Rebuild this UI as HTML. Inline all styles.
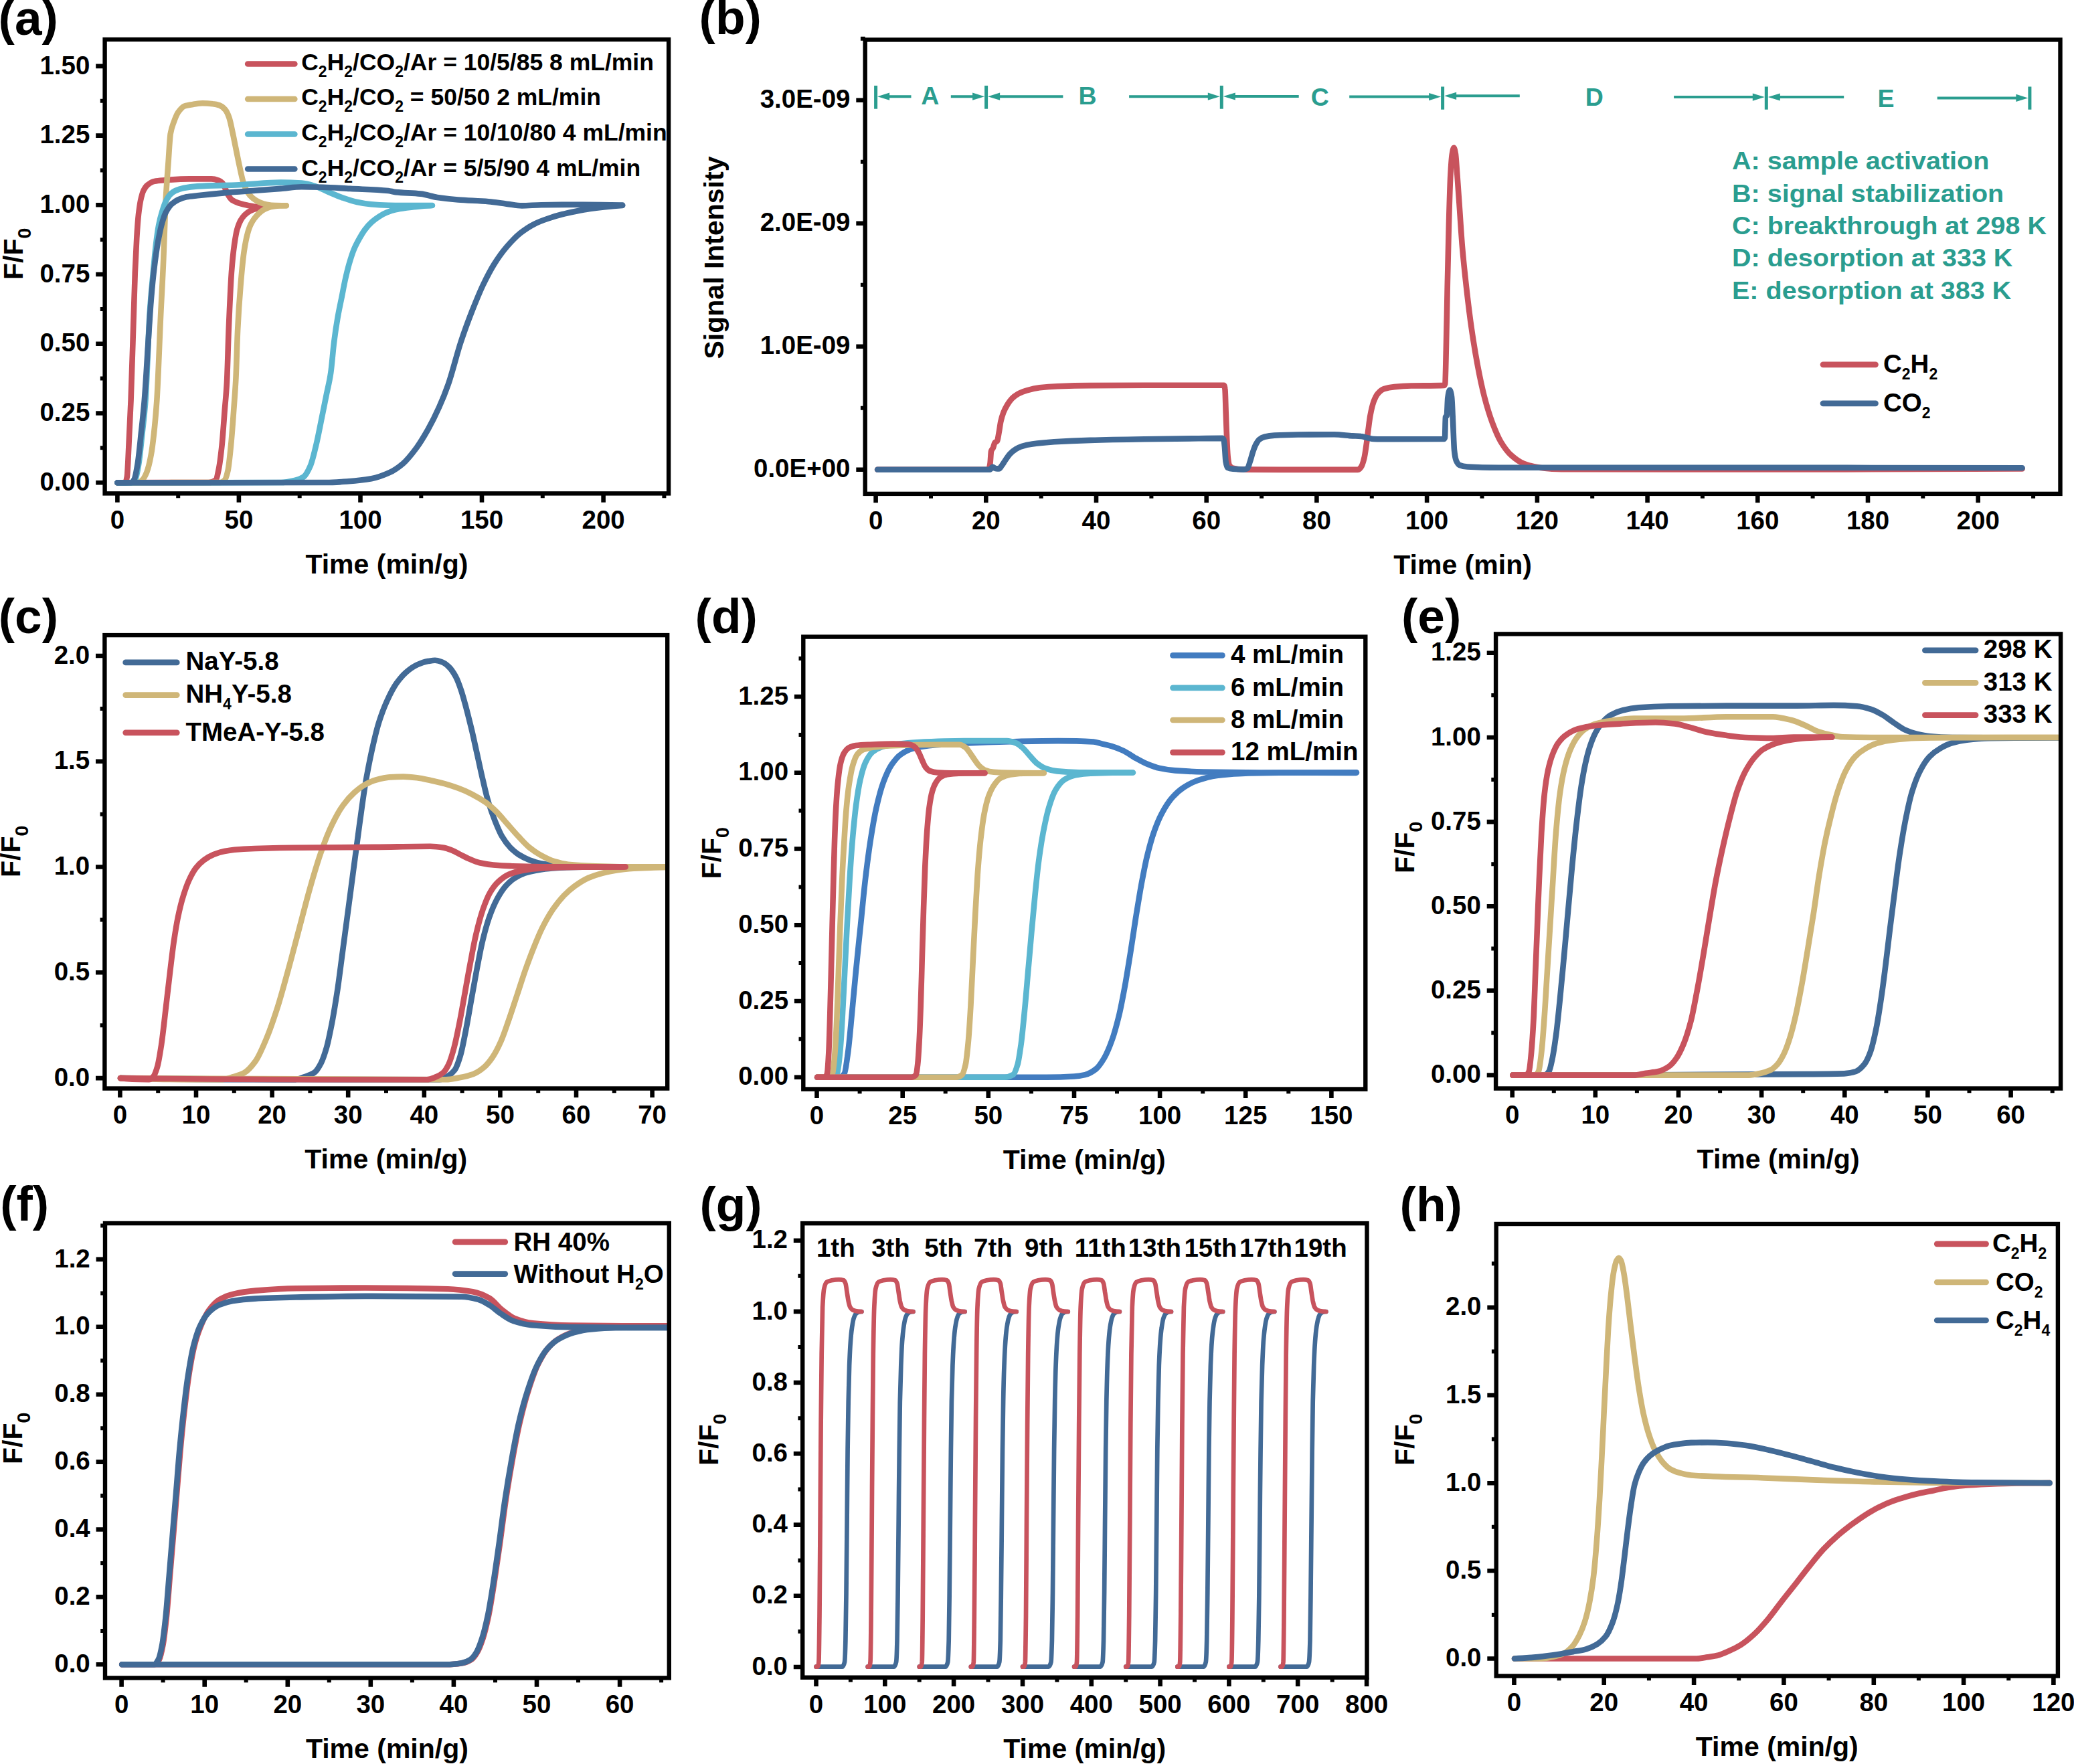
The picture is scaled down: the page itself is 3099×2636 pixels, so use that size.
<!DOCTYPE html>
<html><head><meta charset="utf-8"><title>Figure</title><style>html,body{margin:0;padding:0;background:#fff}svg{display:block}</style></head><body><svg xmlns="http://www.w3.org/2000/svg" width="3099" height="2636" viewBox="0 0 3099 2636" font-family='"Liberation Sans", sans-serif' font-weight="bold"><defs><clipPath id="clipa"><rect x="156.6" y="59" width="842.5" height="678.4"/></clipPath><clipPath id="clipb"><rect x="1292.7" y="59.4" width="1785.8" height="678.5"/></clipPath><clipPath id="clipc"><rect x="156.4" y="949.1" width="840.8" height="677.4"/></clipPath><clipPath id="clipd"><rect x="1200.3" y="951.6" width="840" height="675.9"/></clipPath><clipPath id="clipe"><rect x="2235.1" y="947.4" width="844" height="679.1"/></clipPath><clipPath id="clipf"><rect x="157" y="1828" width="842.8" height="679.4"/></clipPath><clipPath id="clipg"><rect x="1199.2" y="1828.1" width="843.3" height="678.6"/></clipPath><clipPath id="cliph"><rect x="2235.7" y="1829" width="839.2" height="675.5"/></clipPath></defs><rect width="3099" height="2636" fill="#fff"/><path d="M175.4 721.2C179.3 721.2 183.2 721.2 187.1 721C188 721 188.9 717.6 189.8 712.6C190.3 710.1 190.7 700.2 191.2 692.3C191.8 680.5 192.5 663 193.2 648.5C194 631.5 194.8 617.4 195.6 597.8C197 563.1 198.4 511.9 199.8 469.5C200.5 448.6 201.1 424.4 201.8 407.3C202.7 386.8 203.5 368.9 204.3 355.5C205.2 341 206.1 328.3 207 320.3C208.1 311 209.1 304.4 210.1 299.5C211.5 293.1 212.9 287.9 214.3 285C216.3 280.7 218.4 277.9 220.5 276.3C224 273.6 227.4 271.6 230.9 270.9C235 270.1 239.2 269.8 243.3 269.5C256.4 268.4 269.6 267.4 282.7 267.4C293.8 267.4 304.8 267.4 315.9 267.4C319.3 267.4 322.8 268.3 326.2 269.5C328.3 270.1 330.4 271.5 332.5 273.6C333.8 275 335.2 279 336.6 281.9C338 284.8 339.4 288.9 340.8 291.2C342.8 294.7 344.9 297.7 347 299.1C350.4 301.5 353.9 302.6 357.3 303.7C361.5 305 365.6 306 369.8 306.8C373.9 307.6 378.1 308.5 382.2 308.9C386.4 309.2 390.5 309.5 394.7 309.5" fill="none" stroke="#C8535D" stroke-width="8.6" stroke-linecap="round" stroke-linejoin="round" clip-path="url(#clipa)"/>
<path d="M175.4 721.2C220.9 721.2 266.5 721.2 312 721C315.4 721 318.7 719.9 322.1 717.6C323.8 716.5 325.5 707.5 327.2 699.1C328.6 691.8 330.1 679.3 331.6 665.3C332.9 652.4 334.3 631.9 335.6 614.7C336.7 600.4 337.9 591.2 339 570.8C339.9 554 340.9 512.5 341.8 490.3C343.2 457.2 344.6 425.8 345.9 407.3C347.3 388.9 348.7 375.7 350.1 365.9C351.5 356.1 352.8 348 354.2 343.1C356 336.9 357.7 332.7 359.4 329.6C361.5 325.9 363.6 323.3 365.6 321.3C368.4 318.6 371.2 316.4 373.9 315.1C377.4 313.4 380.8 312.2 384.3 311.3C387.7 310.5 391.2 309.8 394.7 309.5" fill="none" stroke="#C8535D" stroke-width="8.6" stroke-linecap="round" stroke-linejoin="round" clip-path="url(#clipa)"/>
<path d="M175.4 721.2C185.8 721.2 196.3 721.2 206.7 721C208.6 721 210.5 719.3 212.4 717.6C214.7 715.7 216.9 711.3 219.2 705.8C221.4 700.4 223.7 691 225.9 678.8C227.6 669.7 229.3 654.8 231 638.3C232.1 627.4 233.2 614.9 234.4 597.8C236.3 568.5 238.3 510.1 240.2 469.5C241.6 440.6 243 418.4 244.3 386.6C245.4 362.7 246.4 323.8 247.4 303.7C248.8 276.8 250.2 260.9 251.6 241.5C252.6 226.9 253.7 206.1 254.7 200C256.3 190.8 257.8 187.6 259.4 183.2C261.7 176.9 263.9 170.9 266.2 167.8C269.4 163.3 272.6 159.6 275.8 158.5C280.3 157 284.8 156.5 289.3 155.8C293.8 155.2 298.3 154.3 302.8 154.3C307.9 154.3 313.1 154.7 318.2 155.3C321.4 155.6 324.7 156.3 327.9 157.4C330.8 158.4 333.7 160.7 336.5 163.9C338.5 166.1 340.4 170.2 342.3 175.5C344.2 180.7 346.1 191.2 348 200C349.4 206.4 350.8 214 352.2 220.7C353.9 229.2 355.6 237.7 357.3 245.6C359.4 255.1 361.5 266.3 363.6 272.6C365.6 278.9 367.7 283.9 369.8 287.1C372.5 291.4 375.3 294.2 378.1 296.4C381.5 299.1 385 301.3 388.4 302.6C391.9 304 395.4 305.2 398.8 305.7C403 306.4 407.1 306.9 411.2 307C416.8 307.1 422.3 307.2 427.8 307.2" fill="none" stroke="#CFB678" stroke-width="8.6" stroke-linecap="round" stroke-linejoin="round" clip-path="url(#clipa)"/>
<path d="M175.4 721.2C226.6 721.2 277.7 721.2 328.9 721C331.1 721 333.4 719.6 335.6 717.6C337.3 716.2 339 710 340.7 702.5C342.1 695.9 343.6 680.1 345.1 665.3C346.4 651.7 347.8 633.2 349.1 614.7C350.2 599.3 351.4 585.9 352.5 564.1C353.4 546.2 354.3 508.3 355.3 490.3C356.6 463.2 358 444.8 359.4 428.1C361.1 407.2 362.9 388.1 364.6 376.2C366.3 364.4 368.1 355.6 369.8 349.3C371.5 343 373.2 338.3 375 334.8C376.7 331.3 378.4 328.8 380.1 326.5C382.2 323.7 384.3 321.1 386.4 319.2C389.1 316.7 391.9 314.5 394.7 313C398.1 311.2 401.6 309.5 405 308.9C409.2 308.1 413.3 307.5 417.5 307.4C420.9 307.3 424.4 307.2 427.8 307.2" fill="none" stroke="#CFB678" stroke-width="8.6" stroke-linecap="round" stroke-linejoin="round" clip-path="url(#clipa)"/>
<path d="M175.4 721.2C183 721.2 190.6 721.2 198.3 721C199.6 721 201 718.8 202.3 716.3C204 713.2 205.7 702.9 207.4 692.7C209.1 682.4 210.7 664.5 212.4 648.8C214.1 633.1 215.8 620.8 217.5 598.2C219.5 570.9 221.6 500.4 223.6 469.5C225.3 443.3 227.1 426.1 228.8 407.3C230.2 392.3 231.6 377.3 232.9 365.9C234.3 354.5 235.7 344 237.1 336.8C238.8 328 240.5 321.8 242.3 316.1C244 310.4 245.7 305.2 247.4 301.6C249.5 297.2 251.6 293.4 253.7 291.2C256.4 288.3 259.2 286.3 262 285C266.1 283 270.3 281.6 274.4 280.9C281.3 279.6 288.2 278.8 295.1 278.4C315.9 277.2 336.6 277.2 357.3 276.3C378.1 275.4 398.8 272.6 419.5 272.6C429.9 272.6 440.3 273 450.6 273.6C457.6 274 464.5 276.3 471.4 278.4C478.3 280.5 485.2 284.6 492.1 287.5C499 290.4 505.9 293.4 512.8 295.8C519.8 298.2 526.7 300.6 533.6 302C540.5 303.5 547.4 304.7 554.3 305.3C562.9 306.1 571.5 306.6 580 306.8C587.2 306.9 594.3 307 601.5 307C616.3 307 631.2 307 646 307" fill="none" stroke="#5BB6D0" stroke-width="8.6" stroke-linecap="round" stroke-linejoin="round" clip-path="url(#clipa)"/>
<path d="M175.4 721.2C256.9 721.2 338.5 721.2 420 721C426.7 721 433.5 719.5 440.2 718C444.7 717 449.2 715.6 453.7 712.6C457.1 710.3 460.5 703.5 463.9 695.7C466.7 689.2 469.5 676.9 472.3 665.3C475.1 653.8 477.9 638.6 480.7 624.8C483 613.8 485.2 602.3 487.5 591.1C489.7 579.8 492 572.3 494.2 557.3C495.9 546.4 497.5 523.6 499.2 510.7C501 496 502.9 484 504.8 473.3C506.7 462.6 508.5 454.6 510.4 445.2C512.3 435.8 514.1 425.4 516 417.1C517.9 408.8 519.8 401.1 521.6 394.7C524.1 386.1 526.6 378.2 529.1 372.2C531.6 366.2 534.1 361.7 536.6 357.2C539.7 351.7 542.8 346.3 546 342.3C549.1 338.2 552.2 334.8 555.3 332C559.1 328.6 562.8 325.9 566.5 323.6C570.3 321.2 574 319.1 577.8 317.6C582.1 315.8 586.5 314.2 590.9 313.3C595.9 312.2 600.8 311.5 605.8 310.8C612.1 310 618.3 309.1 624.6 308.6C630.8 308 637 307.6 643.3 307.3" fill="none" stroke="#5BB6D0" stroke-width="8.6" stroke-linecap="round" stroke-linejoin="round" clip-path="url(#clipa)"/>
<path d="M175.4 721.2C182.5 721.2 189.5 721.2 196.6 721C197.9 721 199.3 718.8 200.6 716.3C202.3 713.2 204 702.9 205.7 692.7C207.4 682.4 209.1 664.5 210.7 648.8C212.4 633.1 214.1 618.5 215.8 598.2C217.7 575.2 219.6 539.8 221.5 511C222.9 490.1 224.3 465.5 225.7 448.8C227.4 427.9 229.1 411 230.9 397C232.6 383 234.3 371.4 236 361.7C237.8 352 239.5 343.3 241.2 336.8C243.3 329.1 245.4 322.4 247.4 318.2C250.2 312.6 253 308.4 255.7 305.7C259.2 302.4 262.7 300.1 266.1 298.5C270.3 296.6 274.4 295.1 278.6 294.3C284.1 293.3 289.6 292.9 295.1 292.3C309 290.7 322.8 289.3 336.6 288.1C350.4 286.9 364.3 286 378.1 285C391.9 284 405.7 283 419.5 281.9C429.9 281.1 440.3 279.2 450.6 279.2C461 279.2 471.4 279.5 481.7 279.8C495.6 280.2 509.4 281.2 523.2 281.9C542.1 282.9 561.1 283.2 580 285C583.7 285.4 587.4 286.7 591.1 287.1C603.5 288.4 616 288.3 628.4 289.6C636.7 290.4 645 293.7 653.3 295C663.7 296.5 674 297.7 684.4 298.5C699.6 299.7 714.8 299.9 730 301.2C739 301.9 748 303.6 757 304.7C764.6 305.6 772.2 307.4 779.8 307.4C789.5 307.4 799.1 306.3 808.8 306.2C829.5 305.9 850.3 305.7 871 305.7C890.7 305.7 910.4 306.1 930.1 306.6" fill="none" stroke="#426A96" stroke-width="8.6" stroke-linecap="round" stroke-linejoin="round" clip-path="url(#clipa)"/>
<path d="M175.4 721.2C279.4 721.2 383.5 721.2 487.5 721C498.7 721 510 720.1 521.2 719.3C532.5 718.5 543.7 717.3 555 715.3C564 713.7 573 710.3 582 706.2C588.7 703.1 595.5 698.4 602.2 692.7C609 686.9 615.7 678.2 622.5 669C628.1 661.4 633.7 652 639.4 642C645 632 650.6 620.9 656.2 608.3C660.7 598.3 665.2 587.4 669.7 574.5C676 556.7 682.3 530 688.6 511C694.1 494.3 699.6 479.5 705.1 465.4C710.7 451.3 716.2 437.6 721.7 426C727.3 414.4 732.8 403.7 738.3 394.9C744.5 384.9 750.8 376.2 757 369C763.9 360.9 770.8 353.7 777.7 348.2C784.6 342.8 791.5 338.2 798.4 334.8C805.4 331.3 812.3 328.8 819.2 326.5C826.1 324.1 833 322 839.9 320.3C846.8 318.5 853.7 317.1 860.6 315.7C867.6 314.3 874.5 313 881.4 312C888.3 311 895.2 310.2 902.1 309.5C911.4 308.5 920.8 307.6 930.1 307" fill="none" stroke="#426A96" stroke-width="8.6" stroke-linecap="round" stroke-linejoin="round" clip-path="url(#clipa)"/>
<path d="M1311.1 701.8C1366.5 701.8 1421.9 701.8 1477.3 701.6C1478 701.6 1478.7 697.5 1479.4 693.3C1480 690 1480.5 676.2 1481 674.4C1482 671 1483 671.2 1484 669C1484.8 667.1 1485.6 662.7 1486.4 661.7C1487.6 660.2 1488.8 660.6 1490 659C1490.9 657.7 1491.8 650.8 1492.7 646C1493.6 641.2 1494.5 633.7 1495.4 629.8C1496.7 623.9 1498.1 619.7 1499.4 616.3C1501.2 611.8 1503 608.5 1504.8 605.5C1507.1 601.8 1509.3 598.3 1511.6 596.1C1514.7 592.9 1517.9 590.5 1521 588.8C1525.5 586.3 1530 584.6 1534.5 583.4C1540.8 581.6 1547.1 580.1 1553.4 579.3C1562.4 578.2 1571.4 577.5 1580.4 577.2C1596.6 576.6 1612.8 576.2 1629 576.1C1656 575.9 1683 575.8 1710 575.8C1749.6 575.8 1789.2 575.8 1828.8 575.8C1829.4 575.8 1829.9 577.9 1830.4 581.2C1830.9 584 1831.3 606.9 1831.8 619C1832.2 631.1 1832.7 644.4 1833.1 654.1C1833.7 665.8 1834.2 679.3 1834.8 683.8C1835.5 689.8 1836.2 694 1836.9 695.1C1838.7 698.1 1840.5 699.3 1842.3 699.7C1846.8 700.9 1851.3 701.6 1855.8 701.6C1879.2 701.9 1902.6 701.9 1926 701.9C1960.3 701.9 1994.6 701.9 2029 701.9C2030.5 701.9 2032.1 700.1 2033.6 698.1C2035.2 696.2 2036.8 691.1 2038.3 685C2039.4 681 2040.4 673.4 2041.4 666.3C2042.5 659.2 2043.5 649.1 2044.6 641.4C2045.6 633.6 2046.6 624.9 2047.7 619.6C2049.2 611.5 2050.8 605.1 2052.3 600.8C2054.4 595.2 2056.5 590.8 2058.6 588.4C2061.7 584.8 2064.8 582.2 2067.9 581.2C2073.1 579.5 2078.3 578.6 2083.5 578.1C2091.8 577.3 2100.1 576.7 2108.5 576.5C2124.9 576.2 2141.3 576.5 2157.7 575.9C2158.2 575.9 2158.8 575 2159.3 573.4C2159.8 571.8 2160.3 543.2 2160.8 522.9C2161.5 498.6 2162.1 458.2 2162.7 429.4C2163.4 395.8 2164.2 361.6 2164.9 335.9C2165.7 306.4 2166.5 275.7 2167.4 261.1C2168.2 246.4 2169 234.6 2169.9 229.9C2170.7 225.2 2171.5 220.8 2172.4 220.8C2173.2 220.8 2174 225.2 2174.9 229.9C2175.7 234.6 2176.5 250.1 2177.4 261.1C2178.4 274.7 2179.4 290 2180.5 304.7C2181.9 325.3 2183.4 349.7 2184.8 367C2186.9 391.8 2189 410.8 2191.1 429.4C2193.7 452.6 2196.3 473.8 2198.9 491.7C2202 513.2 2205.1 531.5 2208.2 547.9C2211.3 564.2 2214.5 579.4 2217.6 591.5C2221.7 607.6 2225.9 621 2230 632C2234.2 643.1 2238.4 653.2 2242.5 660.1C2247.7 668.7 2252.9 675.7 2258.1 680.3C2264.3 685.9 2270.6 690.5 2276.8 692.8C2285.1 695.9 2293.4 698.1 2301.7 699C2312.1 700.2 2322.5 701.2 2332.9 701.2C2388.6 701.5 2444.3 701.5 2500 701.5C2673.9 701.5 2847.7 701.4 3021.6 700.5" fill="none" stroke="#C8535D" stroke-width="8.6" stroke-linecap="round" stroke-linejoin="round" clip-path="url(#clipb)"/>
<path d="M1311.1 701.8C1367.1 701.8 1423.1 701.8 1479.2 701.6C1480.5 701.6 1481.9 697.8 1483.2 697.8C1484.6 697.8 1485.9 699.8 1487.3 700C1489.1 700.3 1490.9 700.5 1492.7 700.5C1494 700.5 1495.4 697.7 1496.7 696C1498.5 693.6 1500.3 690.5 1502.1 687.9C1504.4 684.6 1506.6 680.8 1508.9 678.4C1511.6 675.6 1514.3 673.3 1517 671.7C1520.1 669.7 1523.3 668 1526.4 667.1C1531.8 665.4 1537.2 664.3 1542.6 663.6C1553.4 662 1564.2 661 1575 660.3C1593 659.2 1611 658.4 1629 657.9C1656 657.1 1683 656.7 1710 656.3C1737 655.8 1764 655.4 1791 655.2C1802.9 655.1 1814.8 654.9 1826.7 654.9C1827.2 654.9 1827.7 655.5 1828.3 656.3C1828.8 657.1 1829.4 662.6 1829.9 667.6C1830.4 672.6 1831 686.1 1831.5 689.2C1832.4 694.5 1833.3 698.1 1834.2 698.7C1836.9 700.2 1839.6 700.6 1842.3 700.8C1847.7 701.3 1853.1 701.6 1858.5 701.6C1860.3 701.6 1862.1 701 1863.9 700C1865.3 699.3 1866.6 693.2 1868 689.2C1869.3 685.2 1870.7 679.7 1872 675.7C1873.4 671.7 1874.7 667.5 1876.1 664.9C1877.9 661.4 1879.7 658.2 1881.5 656.8C1884.2 654.7 1886.9 653.4 1889.6 652.8C1894.5 651.6 1899.5 650.9 1904.4 650.6C1916.1 649.9 1927.8 649.6 1939.5 649.5C1957.5 649.4 1975.5 649.2 1993.5 649.2C2002.7 649.2 2012 650.8 2021.2 651.4C2025.3 651.6 2029.5 651.6 2033.6 652C2036.8 652.2 2039.9 653.5 2043 654.2C2046.1 654.8 2049.2 656 2052.3 656C2062.7 656.3 2073.1 656.3 2083.5 656.3C2108.3 656.3 2133 656.3 2157.7 656C2158.1 656 2158.5 655.3 2159 653.8C2159.3 652.8 2159.6 624.1 2159.9 623.3C2160.5 621.7 2161.1 622.5 2161.8 621.1C2162.3 619.9 2162.8 598.3 2163.3 594.6C2164.3 587.9 2165.2 582.8 2166.1 582.8C2167.1 582.8 2168 586.4 2168.9 591.5C2169.7 595.5 2170.4 617.4 2171.1 632C2171.7 644.5 2172.4 666.8 2173 672.5C2173.9 681.2 2174.9 686 2175.8 688.1C2177.5 692 2179.1 694.3 2180.8 695C2184.7 696.6 2188.7 697.3 2192.6 697.5C2208.2 698.4 2223.8 698.7 2239.4 698.7C2326.3 698.7 2413.1 698.7 2500 698.7C2673.9 698.7 2847.7 699 3021.6 699.3" fill="none" stroke="#426A96" stroke-width="8.6" stroke-linecap="round" stroke-linejoin="round" clip-path="url(#clipb)"/>
<path d="M180 1611.1C266.3 1613.3 352.6 1613.3 438.9 1613.3C444.3 1613.3 449.8 1610.8 455.3 1609.1C460.1 1607.5 464.8 1606.2 469.6 1602.9C473 1600.6 476.5 1594.8 479.9 1588.2C482.6 1582.9 485.3 1574.6 488.1 1565C490.8 1555.5 493.5 1541.5 496.3 1527.2C499 1512.9 501.7 1496 504.5 1477.8C507.2 1459.5 509.9 1436.8 512.7 1416.3C515.4 1395.8 518.1 1375.3 520.9 1354.8C523.6 1334.3 526.3 1313.9 529 1293.4C531.8 1272.9 534.5 1251.7 537.2 1231.9C540 1212.1 542.7 1190.9 545.4 1174.5C548.9 1154 552.3 1136.7 555.7 1121.2C559.1 1105.8 562.5 1091.2 565.9 1080.2C570 1067.1 574.1 1056.5 578.2 1047.5C583 1036.9 587.8 1027.6 592.6 1020.8C597.4 1014.1 602.1 1008.5 606.9 1004.4C612.4 999.8 617.8 995.8 623.3 993.4C628.8 991 634.2 989 639.7 988C643.1 987.5 646.5 986.8 650 986.8C653.4 986.8 656.8 988.1 660.2 989.3C663.6 990.5 667 993.1 670.4 996.2C673.9 999.4 677.3 1004.4 680.7 1010.6C683.4 1015.5 686.2 1023.1 688.9 1031.1C691.6 1039 694.3 1049.6 697.1 1059.8C699.8 1070 702.5 1081 705.3 1092.5C708 1104.1 710.7 1117.1 713.5 1129.4C716.2 1141.7 718.9 1154.7 721.7 1166.3C724.4 1177.9 727.1 1190 729.9 1199.1C733.3 1210.4 736.7 1219.4 740.1 1227.8C743.5 1236.2 746.9 1244.6 750.4 1250.3C754.5 1257.2 758.6 1262.5 762.7 1266.7C766.8 1270.9 770.9 1274.4 775 1277C780.4 1280.4 785.9 1283.1 791.3 1285.2C796.8 1287.2 802.3 1289 807.7 1290.1C815.9 1291.6 824.1 1292.8 832.3 1293.4C844.6 1294.2 856.9 1294.8 869.2 1295C888.3 1295.2 907.5 1295.4 926.6 1295.4" fill="none" stroke="#426A96" stroke-width="8.6" stroke-linecap="round" stroke-linejoin="round" clip-path="url(#clipc)"/>
<path d="M180 1611.1C339 1613.3 498.1 1613.3 657.1 1613.3C661.2 1613.3 665.3 1610.3 669.4 1607.8C672.8 1605.8 676.2 1603.3 679.6 1598.7C682.4 1595 685.1 1586.7 687.8 1577.7C690.6 1568.7 693.3 1553.6 696 1539.8C698.8 1526 701.5 1509.3 704.2 1494.2C707 1479.1 709.7 1463.4 712.4 1449.1C715.2 1434.8 717.9 1419.6 720.6 1408.1C724 1393.7 727.5 1381 730.9 1371.2C735 1359.5 739.1 1350 743.2 1342.5C747.3 1335.1 751.4 1328.7 755.5 1324.1C759.6 1319.5 763.7 1315.7 767.8 1313C773.2 1309.5 778.7 1306.7 784.1 1304.8C789.6 1303 795.1 1301.7 800.5 1300.7C808.7 1299.3 816.9 1298 825.1 1297.5C840.2 1296.5 855.2 1296 870.2 1295.8C889.3 1295.6 908.5 1295.4 927.6 1295.4" fill="none" stroke="#426A96" stroke-width="8.6" stroke-linecap="round" stroke-linejoin="round" clip-path="url(#clipc)"/>
<path d="M180 1611.1C230.8 1613.3 281.6 1613.3 332.3 1613.3C337.8 1613.3 343.3 1610.7 348.7 1609.1C354.2 1607.4 359.7 1605.9 365.1 1602.9C370.6 1599.9 376 1593.6 381.5 1586.1C387 1578.6 392.4 1565.4 397.9 1552.4C403.4 1539.5 408.8 1523.5 414.3 1506.5C419.8 1489.5 425.2 1468.9 430.7 1449.1C436.2 1429.3 441.6 1408.1 447.1 1387.6C452.5 1367.1 458 1345.2 463.5 1326.1C468.9 1307.1 474.4 1288.3 479.9 1272.9C485.3 1257.4 490.8 1243.1 496.3 1231.9C501.7 1220.6 507.2 1210.7 512.7 1203.2C518.1 1195.7 523.6 1189.7 529 1184.8C534.5 1179.8 540 1175.4 545.4 1172.5C550.9 1169.5 556.4 1167 561.8 1165.5C568.7 1163.6 575.5 1161.8 582.3 1161.4C589.2 1160.9 596 1160.6 602.8 1160.6C609.7 1160.6 616.5 1161.4 623.3 1162.2C630.1 1163 637 1164.8 643.8 1166.3C650.6 1167.8 657.5 1169.4 664.3 1171.2C671.1 1173.1 678 1175.3 684.8 1177.8C691.6 1180.3 698.4 1183.3 705.3 1186.8C712.1 1190.3 718.9 1194.2 725.8 1199.1C731.2 1203 736.7 1208.1 742.2 1213.4C747.6 1218.8 753.1 1225.7 758.6 1231.9C764 1238 769.5 1244.5 775 1250.3C780.4 1256.1 785.9 1262.3 791.3 1266.7C796.8 1271.1 802.3 1274.8 807.7 1277.8C814.6 1281.6 821.4 1285.2 828.2 1287.2C835.1 1289.2 841.9 1291 848.7 1291.7C862.4 1293.1 876 1293.8 889.7 1294.2C910.2 1294.8 930.7 1295.4 951.2 1295.4C968.3 1295.4 985.3 1295.4 1002.4 1295.4" fill="none" stroke="#CFB678" stroke-width="8.6" stroke-linecap="round" stroke-linejoin="round" clip-path="url(#clipc)"/>
<path d="M180 1611.1C342.1 1613.3 504.2 1613.3 666.3 1613.3C673.1 1613.3 680 1611.6 686.8 1610.3C693.6 1609 700.4 1607.5 707.3 1605C712.7 1602.9 718.2 1599.1 723.7 1594.5C727.8 1591 731.9 1585.8 736 1579.8C740.1 1573.8 744.2 1565.8 748.3 1556.6C752.4 1547.5 756.5 1534.7 760.6 1523C764.7 1511.2 768.8 1498.3 772.9 1486C777 1473.7 781 1460.7 785.1 1449.1C789.2 1437.5 793.3 1426.5 797.4 1416.3C801.5 1406.1 805.6 1395.9 809.7 1387.6C815.2 1376.6 820.7 1366.9 826.1 1358.9C831.6 1351 837.1 1344.1 842.5 1338.4C848 1332.8 853.5 1328 858.9 1324.1C865.7 1319.2 872.6 1314.8 879.4 1311.8C886.2 1308.8 893.1 1306.6 899.9 1304.8C908.1 1302.8 916.3 1300.9 924.5 1299.9C934.1 1298.8 943.6 1297.9 953.2 1297.5C970.3 1296.6 987.3 1295.8 1004.4 1295.8" fill="none" stroke="#CFB678" stroke-width="8.6" stroke-linecap="round" stroke-linejoin="round" clip-path="url(#clipc)"/>
<path d="M180 1611.1C332.5 1613.3 485.1 1613.3 637.6 1613.3C642.4 1613.3 647.2 1611 652 1609.1C655.4 1607.7 658.8 1605.9 662.2 1602.9C664.9 1600.5 667.7 1595.9 670.4 1590.3C673.1 1584.7 675.9 1575.1 678.6 1565C681.3 1555 684.1 1540.9 686.8 1527.2C689.5 1513.4 692.3 1496.9 695 1481.9C697.7 1466.8 700.4 1451.1 703.2 1436.8C705.9 1422.5 708.6 1407.3 711.4 1395.8C714.8 1381.4 718.2 1368.8 721.6 1358.9C725 1349.1 728.5 1340.3 731.9 1334.3C736 1327.3 740.1 1321.8 744.2 1318C749.6 1312.9 755.1 1308.7 760.6 1306.5C767.4 1303.7 774.2 1301.9 781 1300.7C790.6 1299.1 800.2 1297.9 809.7 1297.5C830.2 1296.5 850.7 1296 871.2 1295.8C892.4 1295.6 913.6 1295.4 934.7 1295.4" fill="none" stroke="#C8535D" stroke-width="8.6" stroke-linecap="round" stroke-linejoin="round" clip-path="url(#clipc)"/>
<path d="M180 1611.1C194.2 1613.3 208.5 1613.3 222.7 1613.3C224.8 1613.3 226.8 1611.2 228.9 1609.1C230.9 1606.9 233 1601.3 235 1594.5C237.1 1587.7 239.1 1574.3 241.2 1560.8C243.2 1547.4 245.3 1527.8 247.3 1510.6C249.4 1493.3 251.4 1474.3 253.5 1457.3C255.5 1440.2 257.6 1422.2 259.6 1408.1C261.7 1394.1 263.7 1381.2 265.8 1371.2C268.5 1358 271.2 1347.3 274 1338.4C276.7 1329.5 279.4 1321.9 282.1 1315.9C285.6 1308.4 289 1301.9 292.4 1297.5C296.5 1292.1 300.6 1288.2 304.7 1285.2C309.5 1281.7 314.3 1278.9 319 1277C324.5 1274.8 330 1273 335.4 1272C345 1270.4 354.6 1269.2 364.1 1268.8C388.7 1267.6 413.3 1267 437.9 1266.7C478.9 1266.3 519.9 1266.3 560.8 1265.9C588.2 1265.6 615.5 1264.7 642.8 1264.7C649.6 1264.7 656.5 1265.6 663.3 1266.7C667.4 1267.4 671.5 1269.2 675.6 1270.8C679.7 1272.5 683.8 1274.9 687.9 1277C692 1279 696.1 1281.3 700.2 1283.1C705.6 1285.5 711.1 1288 716.6 1289.3C723.4 1290.8 730.2 1292 737.1 1292.5C746.6 1293.4 756.2 1293.9 765.8 1294.2C793.1 1294.9 820.4 1295.4 847.7 1295.4C875.7 1295.4 903.7 1295.4 931.7 1295.4" fill="none" stroke="#C8535D" stroke-width="8.6" stroke-linecap="round" stroke-linejoin="round" clip-path="url(#clipc)"/>
<path d="M1221.1 1609.7C1232.2 1609.7 1243.4 1609.7 1254.5 1609.7C1256.9 1609.7 1259.3 1607.7 1261.6 1604.4C1263.4 1602 1265.2 1586.3 1267 1573.3C1268.8 1560.3 1270.6 1539.6 1272.3 1521.4C1274.5 1499.6 1276.6 1474.1 1278.8 1452.3C1281.1 1428 1283.5 1406.1 1285.9 1383.1C1288.3 1360 1290.6 1334.2 1293 1313.9C1295.6 1291.9 1298.2 1271.8 1300.8 1255.1C1303.7 1236.5 1306.6 1219.6 1309.5 1206.7C1313 1191.3 1316.5 1178.1 1320 1168.7C1324.1 1157.7 1328.1 1148.8 1332.2 1142.8C1336.9 1135.9 1341.5 1130.4 1346.2 1127.2C1352 1123.2 1357.8 1120.2 1363.6 1118.6C1371.8 1116.3 1379.9 1114.9 1388.1 1114.1C1405.5 1112.3 1423 1111.4 1440.4 1110.6C1463.8 1109.5 1487.1 1108.7 1510.4 1108.2C1533.9 1107.7 1557.5 1107.1 1581.1 1107.1C1598.7 1107.1 1616.4 1107.5 1634.1 1108.5C1638.4 1108.8 1642.8 1110.6 1647.1 1111.6C1651.8 1112.8 1656.6 1113.7 1661.3 1115.1C1667.2 1116.9 1673.1 1119.2 1678.9 1122C1684.6 1124.7 1690.3 1129.2 1696 1132.4C1701.5 1135.5 1707.1 1138.7 1712.6 1141C1719.2 1143.8 1725.9 1146.6 1732.5 1147.9C1740.2 1149.6 1748 1150.8 1755.7 1151.4C1770.1 1152.5 1784.4 1153.2 1798.8 1153.5C1827.2 1154.1 1855.6 1154.4 1884 1154.5C1931.2 1154.7 1978.4 1154.9 2025.6 1154.9" fill="none" stroke="#427CC0" stroke-width="8.6" stroke-linecap="round" stroke-linejoin="round" clip-path="url(#clipd)"/>
<path d="M1221.1 1609.7C1335.4 1609.7 1449.6 1609.7 1563.9 1609.7C1577.5 1609.7 1591.2 1609.3 1604.8 1608.5C1610.3 1608.2 1615.8 1607.3 1621.2 1606.1C1626.7 1604.8 1632.2 1601.7 1637.6 1597.5C1641.7 1594.3 1645.8 1588 1649.9 1581.1C1654 1574.1 1658.1 1564.1 1662.2 1552.4C1665.6 1542.6 1669 1529.9 1672.5 1515.5C1675.2 1504 1677.9 1489.4 1680.7 1474.5C1683.4 1459.6 1686.1 1442.4 1688.9 1425.3C1691.6 1408.3 1694.3 1389.1 1697 1372C1699.8 1355 1702.5 1337.8 1705.2 1322.9C1708 1308 1710.7 1293.4 1713.4 1281.9C1716.9 1267.5 1720.3 1254.9 1723.7 1245C1727.8 1233.1 1731.9 1223.1 1736 1215.5C1741.4 1205.3 1746.9 1196.9 1752.4 1190.9C1757.8 1184.9 1763.3 1180.1 1768.8 1176.6C1775.6 1172.2 1782.4 1168.7 1789.3 1166.3C1798.8 1163 1808.4 1160.2 1818 1158.9C1828.9 1157.5 1839.8 1156.4 1850.7 1156.1C1871.2 1155.4 1891.7 1155 1912.2 1154.8C1950.5 1154.6 1988.7 1154.4 2027 1154.4" fill="none" stroke="#427CC0" stroke-width="8.6" stroke-linecap="round" stroke-linejoin="round" clip-path="url(#clipd)"/>
<path d="M1221.1 1609.7C1229.2 1609.7 1237.4 1609.7 1245.5 1609.7C1247.3 1609.7 1249.1 1607.6 1250.8 1604.4C1252.3 1601.9 1253.7 1587.3 1255.1 1573.3C1256.3 1561.6 1257.5 1541.2 1258.6 1521.4C1259.8 1501.7 1261 1475.3 1262.2 1452.3C1263.4 1429.2 1264.5 1405.1 1265.7 1383.1C1267 1358.9 1268.3 1334.2 1269.6 1313.9C1271 1291.9 1272.4 1271.5 1273.8 1255.1C1275.6 1234.8 1277.4 1216.5 1279.1 1203.3C1281.2 1187.4 1283.3 1174.4 1285.4 1165.2C1288 1154 1290.6 1144.7 1293.2 1139.3C1296.7 1132 1300.2 1126.6 1303.7 1123.7C1308.4 1119.9 1313.1 1117.5 1317.7 1116.1C1323.6 1114.4 1329.4 1113.5 1335.3 1112.7C1347 1111.1 1358.7 1109.8 1370.4 1109.2C1393.9 1108.1 1417.4 1107.1 1440.9 1107.1C1462.1 1107.1 1483.3 1107.1 1504.5 1107.1C1509.2 1107.1 1513.9 1108.8 1518.7 1110.6C1522.2 1111.9 1525.7 1115.4 1529.3 1118.6C1532.8 1121.8 1536.3 1126.8 1539.9 1130.7C1543.2 1134.3 1546.5 1138.5 1549.8 1141C1554.2 1144.3 1558.6 1147.2 1563 1148.6C1568.5 1150.5 1574 1151.9 1579.5 1152.4C1590.5 1153.5 1601.5 1154.1 1612.5 1154.2C1639 1154.4 1665.5 1154.5 1692 1154.5" fill="none" stroke="#5BB6D0" stroke-width="8.6" stroke-linecap="round" stroke-linejoin="round" clip-path="url(#clipd)"/>
<path d="M1221.1 1609.7C1314.6 1609.7 1408 1609.7 1501.5 1609.7C1505.5 1609.7 1509.6 1608.4 1513.7 1606.1C1516 1604.9 1518.3 1598.3 1520.6 1590.6C1522.3 1584.8 1524 1572.1 1525.8 1559.5C1527.5 1546.8 1529.2 1528.7 1530.9 1511C1532.7 1493.3 1534.4 1471.9 1536.1 1452.3C1537.9 1432.7 1539.6 1412.5 1541.3 1393.5C1543 1374.5 1544.8 1355.4 1546.5 1338.1C1548.2 1320.9 1550 1303.1 1551.7 1289.7C1554 1271.9 1556.3 1257 1558.6 1244.8C1561.5 1229.6 1564.3 1216.2 1567.2 1206.7C1570.5 1195.8 1573.8 1186.3 1577.1 1180.8C1581.5 1173.5 1585.9 1168 1590.3 1165.2C1595.8 1161.8 1601.3 1159.4 1606.8 1158.3C1614.5 1156.8 1622.2 1155.8 1629.8 1155.6C1650.9 1154.9 1671.9 1154.5 1693 1154.5" fill="none" stroke="#5BB6D0" stroke-width="8.6" stroke-linecap="round" stroke-linejoin="round" clip-path="url(#clipd)"/>
<path d="M1221.1 1609.7C1226.9 1609.7 1232.7 1609.7 1238.5 1609.7C1240.3 1609.7 1242.1 1607.8 1243.9 1604.4C1245.1 1602.2 1246.3 1587.5 1247.5 1573.3C1248.5 1561.9 1249.4 1542.4 1250.4 1521.4C1251.2 1503.1 1252.1 1475.3 1252.9 1452.3C1253.7 1429.2 1254.6 1404.8 1255.4 1383.1C1256.4 1358.6 1257.3 1333.9 1258.3 1313.9C1259.2 1294.3 1260.1 1277.5 1261.1 1262.1C1262.2 1242.8 1263.4 1223.4 1264.5 1210.2C1265.9 1194.3 1267.3 1181.6 1268.7 1172.2C1270.5 1160.4 1272.2 1150.5 1274 1144.5C1276.3 1136.5 1278.6 1130 1281 1127.2C1283.9 1123.6 1286.8 1121.4 1289.7 1120.3C1294.4 1118.5 1299 1117.5 1303.7 1116.8C1314.2 1115.4 1324.7 1114.4 1335.1 1114.1C1358.6 1113.2 1382.1 1112.7 1405.5 1112.7C1414.9 1112.7 1424.3 1112.7 1433.7 1112.7C1436.7 1112.7 1439.6 1114.8 1442.6 1116.8C1444.9 1118.5 1447.3 1122.3 1449.6 1125.5C1451.9 1128.6 1454.2 1132.6 1456.6 1135.8C1458.8 1138.9 1461 1142.4 1463.2 1144.5C1466 1147.1 1468.7 1149.7 1471.5 1150.7C1475.9 1152.4 1480.3 1153.5 1484.8 1153.8C1492.5 1154.4 1500.2 1154.8 1507.9 1154.9C1524.9 1155.1 1541.9 1155.2 1558.9 1155.2" fill="none" stroke="#CFB678" stroke-width="8.6" stroke-linecap="round" stroke-linejoin="round" clip-path="url(#clipd)"/>
<path d="M1221.1 1609.7C1290.4 1609.7 1359.7 1609.7 1428.9 1609.7C1431.8 1609.7 1434.7 1608.4 1437.6 1606.1C1439.3 1604.8 1441 1598.3 1442.8 1590.6C1444.1 1584.4 1445.5 1570.9 1446.9 1556C1448.1 1543.5 1449.2 1523.9 1450.4 1504.1C1451.5 1484.4 1452.7 1458 1453.8 1435C1455 1411.9 1456.1 1387 1457.3 1365.8C1458.4 1344.6 1459.6 1323 1460.7 1307C1462.2 1286.2 1463.7 1268.7 1465.2 1255.1C1467 1239.6 1468.7 1226.2 1470.4 1217.1C1472.7 1205 1475 1195.7 1477.3 1189.4C1480.2 1181.7 1483.1 1176.1 1486 1172.2C1489.1 1167.9 1492.2 1164.1 1495.4 1162.5C1500.1 1160 1504.8 1158.4 1509.5 1157.6C1515.9 1156.6 1522.3 1155.7 1528.6 1155.6C1539 1155.3 1549.5 1155.2 1559.9 1155.2" fill="none" stroke="#CFB678" stroke-width="8.6" stroke-linecap="round" stroke-linejoin="round" clip-path="url(#clipd)"/>
<path d="M1221.1 1609.7C1225.1 1609.7 1229.1 1609.7 1233.1 1609.7C1234 1609.7 1235 1607.5 1235.9 1604.4C1236.7 1601.7 1237.5 1588.1 1238.3 1573.3C1238.9 1562.7 1239.5 1541.2 1240.1 1521.4C1240.7 1501.7 1241.3 1475.3 1241.9 1452.3C1242.4 1429.2 1243 1406.1 1243.6 1383.1C1244.2 1360 1244.8 1335.1 1245.4 1313.9C1245.9 1292.8 1246.5 1271.1 1247.1 1255.1C1247.9 1232.8 1248.7 1212.9 1249.6 1199.8C1250.5 1184.8 1251.4 1173.6 1252.4 1165.2C1253.5 1154.8 1254.7 1146 1255.9 1141C1257.6 1133.6 1259.4 1128.4 1261.1 1125.5C1263.5 1121.6 1265.8 1118.8 1268.2 1117.5C1271.7 1115.7 1275.2 1114.5 1278.7 1114.1C1285.7 1113.2 1292.7 1113 1299.7 1112.7C1311.5 1112.2 1323.4 1111.6 1335.2 1111.6C1342.3 1111.6 1349.4 1111.7 1356.5 1112C1359.4 1112.1 1362.4 1113.5 1365.3 1115.1C1367.7 1116.4 1370.1 1119.9 1372.4 1123.7C1374.2 1126.6 1376 1132 1377.8 1135.8C1379.5 1139.5 1381.2 1144.1 1382.9 1146.2C1385.1 1149 1387.3 1151.3 1389.5 1152.1C1393.3 1153.5 1397.2 1154.3 1401 1154.5C1407.6 1154.9 1414.2 1155.2 1420.8 1155.2C1437.4 1155.2 1454.1 1155.2 1470.7 1155.2" fill="none" stroke="#C8535D" stroke-width="8.6" stroke-linecap="round" stroke-linejoin="round" clip-path="url(#clipd)"/>
<path d="M1221.1 1609.7C1268.2 1609.7 1315.4 1609.7 1362.5 1609.7C1364.6 1609.7 1366.7 1608.6 1368.8 1606.1C1369.6 1605.2 1370.4 1597.7 1371.2 1590.6C1372 1583.4 1372.8 1570.8 1373.6 1556C1374.3 1543.3 1375 1523.9 1375.7 1504.1C1376.4 1484.4 1377.1 1458 1377.7 1435C1378.4 1411.9 1379.1 1387.1 1379.8 1365.8C1380.6 1340.9 1381.4 1315 1382.2 1296.6C1383.2 1275.7 1384.1 1257.7 1385 1244.8C1386.2 1228.6 1387.3 1215.2 1388.5 1206.7C1390 1195.7 1391.5 1187.5 1393 1182.5C1394.9 1176 1396.9 1171.7 1398.8 1168.7C1401.1 1165.2 1403.4 1162.5 1405.7 1161.1C1408.9 1159.2 1412.1 1157.8 1415.3 1157.3C1421.2 1156.3 1427 1155.7 1432.9 1155.6C1445.8 1155.3 1458.8 1155.2 1471.7 1155.2" fill="none" stroke="#C8535D" stroke-width="8.6" stroke-linecap="round" stroke-linejoin="round" clip-path="url(#clipd)"/>
<path d="M2260.3 1606.6C2276 1606.6 2291.7 1606.6 2307.5 1606.6C2309.8 1606.6 2312.2 1604.2 2314.5 1601C2316.3 1598.5 2318.1 1588.8 2319.9 1580.2C2321.6 1571.6 2323.4 1559.1 2325.2 1545.6C2327 1532.2 2328.7 1514.4 2330.5 1497.2C2332.3 1480 2334 1460.9 2335.8 1441.9C2337.6 1422.9 2339.4 1402.8 2341.1 1383.1C2342.9 1363.6 2344.6 1343.4 2346.4 1324.3C2348.1 1305.4 2349.8 1286.2 2351.6 1269C2353.3 1251.8 2355 1235.1 2356.8 1220.6C2358.7 1204.1 2360.7 1188.2 2362.6 1175.6C2364.7 1162.2 2366.8 1150.4 2368.9 1141C2371.2 1130.7 2373.5 1121.9 2375.8 1115.1C2378.7 1106.6 2381.5 1099.7 2384.4 1094.3C2387.9 1087.9 2391.3 1082.6 2394.8 1078.8C2398.8 1074.4 2402.9 1070.7 2406.9 1068.4C2412.7 1065.2 2418.5 1062.9 2424.3 1061.5C2432.4 1059.5 2440.5 1058 2448.5 1057.3C2463.6 1056.2 2478.6 1055.5 2493.7 1055.3C2522.6 1054.8 2551.5 1054.6 2580.4 1054.6C2615.1 1054.6 2649.8 1054.6 2684.5 1054.6C2702.9 1054.6 2721.4 1053.9 2739.9 1053.9C2751.5 1053.9 2763.1 1054.4 2774.7 1055.3C2781.7 1055.8 2788.7 1057.7 2795.6 1059.8C2801.4 1061.5 2807.3 1065 2813.1 1068.4C2818.9 1071.8 2824.7 1076.7 2830.5 1080.5C2836 1084.2 2841.5 1088.4 2847.1 1090.9C2852.6 1093.4 2858.2 1095.5 2863.7 1096.8C2870.3 1098.3 2877 1099.7 2883.6 1100.2C2894.7 1101.2 2905.9 1101.8 2917 1102C2937.1 1102.2 2957.2 1102.3 2977.3 1102.3C3014 1102.3 3050.6 1102.3 3087.3 1102.3" fill="none" stroke="#426A96" stroke-width="8.6" stroke-linecap="round" stroke-linejoin="round" clip-path="url(#clipe)"/>
<path d="M2260.3 1606.6C2406.9 1606.6 2553.4 1606 2700 1605.1C2718.4 1605 2736.9 1604.9 2755.3 1604.4C2761.3 1604.2 2767.3 1602.9 2773.3 1601C2777.4 1599.6 2781.5 1595.5 2785.6 1590.6C2788.5 1587 2791.4 1581 2794.3 1573.3C2797.3 1565.6 2800.2 1552.6 2803.1 1538.7C2805.4 1527.6 2807.8 1512.6 2810.1 1497.2C2812.5 1481.8 2814.8 1463.7 2817.1 1445.3C2819.5 1427 2821.8 1405.6 2824.2 1386.6C2826.5 1367.6 2828.8 1349.1 2831.2 1331.2C2833.5 1313.4 2835.8 1294.8 2838.1 1279.4C2841 1260.1 2843.9 1242.1 2846.8 1227.5C2850.2 1210 2853.7 1193.8 2857.2 1182.5C2861.2 1169.4 2865.2 1159.1 2869.3 1151.4C2873.9 1142.6 2878.5 1135.4 2883.1 1130.7C2888.3 1125.3 2893.5 1121.6 2898.7 1118.6C2904.3 1115.2 2909.9 1112.3 2915.5 1110.6C2923.3 1108.3 2931.1 1106.6 2938.8 1105.8C2949.9 1104.5 2961 1103.5 2972.1 1103.3C3010.5 1102.6 3048.9 1102.3 3087.3 1102.3" fill="none" stroke="#426A96" stroke-width="8.6" stroke-linecap="round" stroke-linejoin="round" clip-path="url(#clipe)"/>
<path d="M2260.3 1606.6C2271.4 1606.6 2282.5 1606.6 2293.5 1606.6C2295.3 1606.6 2297.1 1604.3 2298.9 1601C2300.4 1598.3 2301.8 1585.3 2303.2 1573.3C2304.7 1561.3 2306.1 1541.2 2307.5 1521.4C2309 1501.7 2310.4 1475.3 2311.9 1452.3C2313.3 1429.2 2314.7 1406.2 2316.2 1383.1C2317.6 1360.1 2319 1336.5 2320.5 1313.9C2321.9 1290.3 2323.4 1263.1 2324.9 1244.8C2326.9 1220.8 2328.9 1200 2330.8 1186C2333.1 1169.5 2335.4 1157.4 2337.7 1147.9C2340.6 1136.2 2343.5 1127.1 2346.4 1120.3C2349.8 1112.2 2353.3 1105.8 2356.8 1101.3C2360.8 1096 2364.8 1091.9 2368.9 1089.2C2373.5 1086.1 2378.1 1083.7 2382.7 1082.2C2390.8 1079.7 2398.8 1078.2 2406.9 1077.1C2418.4 1075.5 2430 1073.6 2441.5 1073.6C2464.5 1073.6 2487.6 1073.6 2510.6 1073.6C2533.7 1073.6 2556.8 1071.2 2579.8 1071.2C2602.9 1071.2 2625.9 1071.2 2649 1071.2C2658.2 1071.2 2667.4 1073.8 2676.6 1076C2683.5 1077.7 2690.5 1081 2697.4 1084C2703.9 1086.8 2710.5 1091.1 2717 1093.3C2722.5 1095.2 2728 1096.6 2733.5 1097.8C2740.1 1099.2 2746.7 1101.1 2753.3 1101.3C2770.4 1101.8 2787.5 1102 2804.6 1102C2898.8 1102 2993.1 1102 3087.3 1102" fill="none" stroke="#CFB678" stroke-width="8.6" stroke-linecap="round" stroke-linejoin="round" clip-path="url(#clipe)"/>
<path d="M2260.3 1606.6C2378 1606.6 2495.8 1606.6 2613.5 1606.6C2619.4 1606.6 2625.3 1605 2631.1 1603.7C2635.8 1602.7 2640.5 1601.4 2645.2 1599.2C2648.7 1597.6 2652.2 1594.4 2655.7 1590.6C2659.2 1586.7 2662.7 1580.6 2666.2 1573.3C2669.1 1567.2 2672.1 1558.6 2675 1549.1C2677.9 1539.6 2680.9 1527.5 2683.8 1514.5C2686.7 1501.5 2689.6 1485.6 2692.6 1469.5C2695.5 1453.5 2698.4 1435.4 2701.3 1417.7C2704.1 1400.8 2706.9 1384 2709.7 1365.8C2712.6 1347.3 2715.4 1324.6 2718.3 1307C2721.2 1289.2 2724.1 1272.8 2726.9 1258.6C2729.8 1244.4 2732.7 1232.1 2735.6 1220.6C2739 1206.7 2742.5 1193 2746 1182.5C2750 1170.3 2754 1159.1 2758.1 1151.4C2762.7 1142.6 2767.3 1135.4 2771.9 1130.7C2777 1125.3 2782.2 1121.6 2787.4 1118.6C2793.1 1115.2 2798.9 1112.2 2804.6 1110.6C2812.6 1108.3 2820.7 1106.7 2828.7 1105.8C2840.2 1104.4 2851.7 1103.3 2863.2 1103C2878.1 1102.6 2893.1 1102.4 2908 1102.3C2967.8 1102.1 3027.5 1102 3087.3 1102" fill="none" stroke="#CFB678" stroke-width="8.6" stroke-linecap="round" stroke-linejoin="round" clip-path="url(#clipe)"/>
<path d="M2260.3 1606.6C2266.9 1606.6 2273.5 1606.6 2280.1 1606.6C2281.6 1606.6 2283.1 1604.3 2284.6 1601C2285.8 1598.4 2286.9 1585.3 2288.1 1573.3C2289.2 1561.3 2290.4 1543.2 2291.6 1521.4C2292.5 1504 2293.4 1475.3 2294.3 1452.3C2295.2 1429.2 2296.2 1406.1 2297.1 1383.1C2298 1360 2298.9 1334.5 2299.9 1313.9C2301 1288.2 2302.2 1263.2 2303.3 1244.8C2304.8 1220.9 2306.3 1199.3 2307.8 1186C2309.5 1170.6 2311.3 1159.5 2313 1151.4C2315.3 1140.7 2317.6 1133.1 2319.9 1127.2C2322.8 1119.8 2325.7 1113.8 2328.6 1109.9C2332.6 1104.4 2336.6 1100.5 2340.7 1097.8C2346.4 1093.9 2352.2 1090.8 2357.9 1089.2C2367.2 1086.6 2376.4 1084.9 2385.6 1084C2397.3 1082.8 2409 1082.1 2420.7 1081.6C2438.4 1080.7 2456.2 1079.5 2473.9 1079.5C2483.3 1079.5 2492.8 1080.5 2502.3 1081.6C2510.5 1082.5 2518.8 1085.3 2527.1 1087.4C2535.2 1089.5 2543.3 1092.7 2551.4 1094.3C2560.7 1096.3 2569.9 1097.7 2579.1 1098.8C2590.5 1100.3 2601.9 1101.9 2613.3 1102.3C2624.5 1102.7 2635.6 1103 2646.8 1103C2657.9 1103 2669.1 1101.6 2680.2 1101.6C2699.3 1101.6 2718.3 1101.6 2737.3 1101.6" fill="none" stroke="#C8535D" stroke-width="8.6" stroke-linecap="round" stroke-linejoin="round" clip-path="url(#clipe)"/>
<path d="M2260.3 1606.6C2320.6 1606.6 2380.9 1606.6 2441.2 1606.6C2447.2 1606.6 2453.2 1604.6 2459.2 1603.7C2465.5 1602.8 2471.8 1602.4 2478.1 1601C2483.1 1599.8 2488.2 1597.3 2493.2 1594C2497 1591.6 2500.8 1587.2 2504.5 1581.9C2508.3 1576.7 2512.1 1568.7 2515.9 1559.5C2519.5 1550.6 2523.1 1539 2526.8 1524.9C2529.8 1513.1 2532.8 1496 2535.9 1479.9C2538.9 1463.9 2542 1445.9 2545 1428.1C2548 1410.2 2551.1 1390.8 2554.1 1372.7C2557.3 1353.9 2560.4 1334.1 2563.6 1317.4C2567.2 1298.4 2570.8 1281.6 2574.4 1265.5C2578 1249.5 2581.5 1234.5 2585.1 1220.6C2588.6 1207 2592.1 1192.8 2595.6 1182.5C2599.7 1170.7 2603.7 1160.8 2607.7 1153.1C2611.8 1145.4 2615.8 1139.1 2619.8 1134.1C2624.5 1128.5 2629.1 1123.4 2633.7 1120.3C2639.4 1116.4 2645.2 1113.7 2651 1111.6C2657.5 1109.4 2664 1107.6 2670.5 1106.5C2680 1104.8 2689.6 1103.5 2699.1 1103C2711.9 1102.3 2724.6 1101.6 2737.3 1101.6" fill="none" stroke="#C8535D" stroke-width="8.6" stroke-linecap="round" stroke-linejoin="round" clip-path="url(#clipe)"/>
<path d="M182.2 2487.3C198.6 2487.3 215.1 2487.3 231.5 2487.3C233.7 2487.3 235.9 2483.8 238 2479.8C239.9 2476.4 241.8 2467.2 243.7 2457.2C245.4 2447.9 247.1 2432.4 248.9 2415.9C250.6 2399.5 252.3 2374.8 254 2354.1C255.8 2333.5 257.5 2312.9 259.2 2292.3C260.9 2271.6 262.6 2251.2 264.3 2230.4C266 2210 267.7 2187 269.4 2168.6C271.3 2147.2 273.3 2128.1 275.2 2110.9C277.5 2091.1 279.7 2071.8 281.9 2057.3C284.7 2039.1 287.5 2023 290.3 2011.9C293.3 1999.7 296.4 1990.6 299.5 1983.1C303.6 1972.9 307.8 1963.9 311.9 1958.3C317.4 1950.9 322.9 1945 328.4 1941.8C335.3 1937.8 342.1 1935.1 349 1933.6C360 1931.1 371 1929.6 382 1928.6C402.2 1927 422.4 1925.6 442.6 1925.3C476.9 1924.8 511.3 1924.5 545.6 1924.5C586.9 1924.5 628.1 1925 669.3 1926.2C681.7 1926.5 694.1 1928.1 706.4 1930.3C714.7 1931.8 722.9 1935.2 731.2 1939.8C737.1 1943.1 743.1 1951.5 749 1956.3C755.6 1961.5 762.1 1967.3 768.6 1969.9C777.7 1973.5 786.9 1976.3 796 1977.3C814.5 1979.2 833.1 1980.4 851.6 1980.6C902.9 1981.2 954.1 1981.4 1005.4 1981.4" fill="none" stroke="#C8535D" stroke-width="8.6" stroke-linecap="round" stroke-linejoin="round" clip-path="url(#clipf)"/>
<path d="M182.2 2487.3C344.2 2487.3 506.2 2487.3 668.2 2487.3C675.8 2487.3 683.3 2486.4 690.9 2485.2C695.4 2484.5 700 2482.6 704.5 2479.8C707.3 2478.1 710.1 2474.1 712.9 2469.5C715.8 2465 718.6 2457.4 721.4 2448.9C724.2 2440.5 727 2429.1 729.8 2415.9C732.6 2402.7 735.4 2384.2 738.2 2366.5C741 2348.7 743.9 2328.7 746.7 2308.7C749.7 2287.1 752.8 2261.8 755.8 2241.5C759.2 2218.9 762.6 2198.5 766 2179.7C769.5 2160.3 773 2141.3 776.6 2126.1C781 2107 785.4 2090.5 789.9 2076.6C794.5 2062.3 799 2049 803.6 2039.5C808.6 2029.3 813.6 2020.5 818.6 2014.8C824.1 2008.5 829.6 2003.7 835.1 2000.4C842.8 1995.7 850.5 1992.2 858.2 1990.1C866.8 1987.8 875.3 1985.9 883.8 1985.1C896.1 1984 908.5 1983.2 920.8 1983.1C949.4 1982.8 978 1982.7 1006.7 1982.7" fill="none" stroke="#C8535D" stroke-width="8.6" stroke-linecap="round" stroke-linejoin="round" clip-path="url(#clipf)"/>
<path d="M182.2 2487.3C198.2 2487.3 214.2 2487.3 230.2 2487.3C232.4 2487.3 234.6 2483.8 236.7 2479.8C238.6 2476.4 240.5 2467.2 242.4 2457.2C244.1 2447.9 245.8 2432.4 247.6 2415.9C249.3 2399.4 251 2374.8 252.8 2354.1C254.5 2333.6 256.2 2312.9 257.9 2292.3C259.6 2271.6 261.3 2251.2 263.1 2230.4C264.8 2210 266.4 2187.1 268.1 2168.6C270.1 2147.3 272 2128.1 274 2110.9C276.2 2091.1 278.4 2071.8 280.7 2057.3C283.5 2039.1 286.2 2023 289 2011.9C292.1 1999.7 295.2 1989.8 298.2 1983.1C302.4 1973.9 306.5 1966.8 310.7 1962.5C316.2 1956.7 321.6 1952.5 327.1 1950.1C334 1947.1 340.9 1945 347.8 1943.9C358.8 1942.2 369.7 1941.2 380.7 1940.6C401.4 1939.5 422 1939 442.6 1938.5C476.9 1937.8 511.3 1936.9 545.6 1936.9C593.7 1936.9 641.8 1937 689.9 1937.7C698.2 1937.8 706.4 1939.7 714.7 1941.8C720.2 1943.3 725.7 1946.8 731.2 1950.1C736.6 1953.4 742 1958.8 747.5 1962.5C754 1966.8 760.5 1971.8 767 1974C776.2 1977.1 785.3 1979.4 794.5 1980.2C813.5 1981.9 832.5 1982.9 851.6 1983.1C902.9 1983.6 954.1 1983.9 1005.4 1983.9" fill="none" stroke="#426A96" stroke-width="8.6" stroke-linecap="round" stroke-linejoin="round" clip-path="url(#clipf)"/>
<path d="M182.2 2487.3C343.7 2487.3 505.3 2487.3 666.8 2487.3C674.4 2487.3 682 2486.4 689.5 2485.2C694.1 2484.5 698.6 2482.6 703.1 2479.8C706 2478.1 708.8 2474.1 711.7 2469.5C714.5 2465 717.3 2457.4 720.1 2448.9C722.9 2440.5 725.7 2429.1 728.5 2415.9C731.4 2402.7 734.2 2384.2 737 2366.5C739.8 2348.7 742.6 2328.7 745.4 2308.7C748.4 2287.6 751.3 2262.7 754.3 2242.8C757.7 2220.1 761.1 2199.7 764.5 2180.9C768 2161.5 771.5 2142.4 774.9 2127.4C779.4 2108 783.9 2091.8 788.4 2077.9C793 2063.6 797.6 2050.2 802.3 2040.8C807.3 2030.5 812.3 2021.8 817.4 2016C822.9 2009.7 828.4 2004.9 833.8 2001.6C841.6 1997 849.4 1993.4 857.1 1991.3C865.7 1989 874.2 1987.1 882.7 1986.4C895 1985.3 907.3 1984.4 919.7 1984.3C948.2 1984 976.8 1983.9 1005.4 1983.9" fill="none" stroke="#426A96" stroke-width="8.6" stroke-linecap="round" stroke-linejoin="round" clip-path="url(#clipf)"/>
<path d="M1219.5 2490.7C1232.6 2490.7 1245.7 2490.7 1258.8 2490.7C1259.1 2490.7 1259.5 2489.9 1259.9 2489.3C1260.6 2488.1 1261.3 2487.2 1262 2483.6C1262.5 2481.2 1263 2467.8 1263.4 2451.4C1263.8 2439.1 1264.1 2408.6 1264.5 2380C1264.9 2351.4 1265.2 2308.6 1265.6 2272.9C1265.9 2237.1 1266.3 2194.3 1266.6 2165.7C1267 2137.1 1267.4 2111.7 1267.7 2094.3C1268.2 2071.1 1268.7 2053.3 1269.1 2040.7C1269.7 2025 1270.3 2013 1270.9 2005C1271.6 1995.4 1272.4 1988.4 1273.1 1983.6C1274 1977.1 1275 1972 1275.9 1969.3C1277 1966.2 1278.1 1963.8 1279.1 1962.9C1280.7 1961.5 1282.2 1960.6 1283.8 1960.4C1285 1960.2 1286.2 1960 1287.4 1960" fill="none" stroke="#426A96" stroke-width="6.7" stroke-linecap="round" stroke-linejoin="round" clip-path="url(#clipg)"/>
<path d="M1219.5 2490.7C1220.3 2490.7 1221.2 2490.6 1222 2490.4C1222.5 2490.2 1223 2488 1223.4 2483.6C1223.8 2480.3 1224.1 2446.4 1224.5 2415.7C1224.9 2385 1225.2 2320.5 1225.6 2272.9C1225.9 2225.2 1226.3 2170.8 1226.6 2130C1227 2089.2 1227.4 2046.7 1227.7 2022.9C1228.2 1991.1 1228.7 1963.3 1229.1 1953.2C1229.9 1938.1 1230.6 1928.8 1231.3 1925.7C1232.7 1919.6 1234.1 1916.6 1235.6 1915.7C1238 1914.2 1240.3 1913.6 1242.7 1913.2C1246.3 1912.6 1249.9 1912.1 1253.4 1912.1C1255.8 1912.1 1258.2 1912.5 1260.6 1913.2C1261.5 1913.5 1262.5 1915.3 1263.4 1917.9C1264.1 1919.7 1264.9 1926.7 1265.6 1931.1C1266.3 1935.5 1267 1941 1267.7 1944.3C1268.5 1948.1 1269.4 1951.8 1270.2 1953.2C1271.8 1955.8 1273.3 1957.2 1274.9 1957.9C1277.2 1958.9 1279.6 1959.4 1282 1959.6C1283.8 1959.8 1285.6 1960 1287.4 1960" fill="none" stroke="#C8535D" stroke-width="6.7" stroke-linecap="round" stroke-linejoin="round" clip-path="url(#clipg)"/>
<path d="M1296.6 2490.7C1309.7 2490.7 1322.8 2490.7 1335.9 2490.7C1336.3 2490.7 1336.6 2489.9 1337 2489.3C1337.7 2488.1 1338.4 2487.2 1339.1 2483.6C1339.6 2481.2 1340.1 2467.8 1340.5 2451.4C1340.9 2439.1 1341.3 2408.6 1341.6 2380C1342 2351.4 1342.3 2308.6 1342.7 2272.9C1343 2237.1 1343.4 2194.3 1343.8 2165.7C1344.1 2137.1 1344.5 2111.7 1344.8 2094.3C1345.3 2071.1 1345.8 2053.3 1346.3 2040.7C1346.9 2025 1347.4 2013 1348 2005C1348.8 1995.4 1349.5 1988.4 1350.2 1983.6C1351.1 1977.1 1352.1 1972 1353 1969.3C1354.1 1966.2 1355.2 1963.8 1356.3 1962.9C1357.8 1961.5 1359.4 1960.6 1360.9 1960.4C1362.1 1960.2 1363.3 1960 1364.5 1960" fill="none" stroke="#426A96" stroke-width="6.7" stroke-linecap="round" stroke-linejoin="round" clip-path="url(#clipg)"/>
<path d="M1296.6 2490.7C1297.4 2490.7 1298.3 2490.6 1299.1 2490.4C1299.6 2490.2 1300.1 2488 1300.5 2483.6C1300.9 2480.3 1301.3 2446.4 1301.6 2415.7C1302 2385 1302.3 2320.5 1302.7 2272.9C1303 2225.2 1303.4 2170.8 1303.8 2130C1304.1 2089.2 1304.5 2046.7 1304.8 2022.9C1305.3 1991.1 1305.8 1963.3 1306.3 1953.2C1307 1938.1 1307.7 1928.8 1308.4 1925.7C1309.8 1919.6 1311.3 1916.6 1312.7 1915.7C1315.1 1914.2 1317.4 1913.6 1319.8 1913.2C1323.4 1912.6 1327 1912.1 1330.5 1912.1C1332.9 1912.1 1335.3 1912.5 1337.7 1913.2C1338.6 1913.5 1339.6 1915.3 1340.5 1917.9C1341.3 1919.7 1342 1926.7 1342.7 1931.1C1343.4 1935.5 1344.1 1941 1344.8 1944.3C1345.7 1948.1 1346.5 1951.8 1347.3 1953.2C1348.9 1955.8 1350.4 1957.2 1352 1957.9C1354.4 1958.9 1356.7 1959.4 1359.1 1959.6C1360.9 1959.8 1362.7 1960 1364.5 1960" fill="none" stroke="#C8535D" stroke-width="6.7" stroke-linecap="round" stroke-linejoin="round" clip-path="url(#clipg)"/>
<path d="M1373.7 2490.7C1386.8 2490.7 1399.9 2490.7 1413 2490.7C1413.4 2490.7 1413.7 2489.9 1414.1 2489.3C1414.8 2488.1 1415.5 2487.2 1416.2 2483.6C1416.7 2481.2 1417.2 2467.8 1417.7 2451.4C1418 2439.1 1418.4 2408.6 1418.7 2380C1419.1 2351.4 1419.4 2308.6 1419.8 2272.9C1420.2 2237.1 1420.5 2194.3 1420.9 2165.7C1421.2 2137.1 1421.6 2111.7 1421.9 2094.3C1422.4 2071.1 1422.9 2053.3 1423.4 2040.7C1424 2025 1424.6 2013 1425.2 2005C1425.9 1995.4 1426.6 1988.4 1427.3 1983.6C1428.3 1977.1 1429.2 1972 1430.2 1969.3C1431.2 1966.2 1432.3 1963.8 1433.4 1962.9C1434.9 1961.5 1436.5 1960.6 1438 1960.4C1439.2 1960.2 1440.4 1960 1441.6 1960" fill="none" stroke="#426A96" stroke-width="6.7" stroke-linecap="round" stroke-linejoin="round" clip-path="url(#clipg)"/>
<path d="M1373.7 2490.7C1374.6 2490.7 1375.4 2490.6 1376.2 2490.4C1376.7 2490.2 1377.2 2488 1377.7 2483.6C1378 2480.3 1378.4 2446.4 1378.7 2415.7C1379.1 2385 1379.4 2320.5 1379.8 2272.9C1380.2 2225.2 1380.5 2170.8 1380.9 2130C1381.2 2089.2 1381.6 2046.7 1381.9 2022.9C1382.4 1991.1 1382.9 1963.3 1383.4 1953.2C1384.1 1938.1 1384.8 1928.8 1385.5 1925.7C1386.9 1919.6 1388.4 1916.6 1389.8 1915.7C1392.2 1914.2 1394.6 1913.6 1396.9 1913.2C1400.5 1912.6 1404.1 1912.1 1407.7 1912.1C1410 1912.1 1412.4 1912.5 1414.8 1913.2C1415.8 1913.5 1416.7 1915.3 1417.7 1917.9C1418.4 1919.7 1419.1 1926.7 1419.8 1931.1C1420.5 1935.5 1421.2 1941 1421.9 1944.3C1422.8 1948.1 1423.6 1951.8 1424.4 1953.2C1426 1955.8 1427.5 1957.2 1429.1 1957.9C1431.5 1958.9 1433.8 1959.4 1436.2 1959.6C1438 1959.8 1439.8 1960 1441.6 1960" fill="none" stroke="#C8535D" stroke-width="6.7" stroke-linecap="round" stroke-linejoin="round" clip-path="url(#clipg)"/>
<path d="M1450.8 2490.7C1463.9 2490.7 1477 2490.7 1490.1 2490.7C1490.5 2490.7 1490.8 2489.9 1491.2 2489.3C1491.9 2488.1 1492.6 2487.2 1493.3 2483.6C1493.8 2481.2 1494.3 2467.8 1494.8 2451.4C1495.1 2439.1 1495.5 2408.6 1495.8 2380C1496.2 2351.4 1496.6 2308.6 1496.9 2272.9C1497.3 2237.1 1497.6 2194.3 1498 2165.7C1498.3 2137.1 1498.7 2111.7 1499.1 2094.3C1499.5 2071.1 1500 2053.3 1500.5 2040.7C1501.1 2025 1501.7 2013 1502.3 2005C1503 1995.4 1503.7 1988.4 1504.4 1983.6C1505.4 1977.1 1506.3 1972 1507.3 1969.3C1508.3 1966.2 1509.4 1963.8 1510.5 1962.9C1512 1961.5 1513.6 1960.6 1515.1 1960.4C1516.3 1960.2 1517.5 1960 1518.7 1960" fill="none" stroke="#426A96" stroke-width="6.7" stroke-linecap="round" stroke-linejoin="round" clip-path="url(#clipg)"/>
<path d="M1450.8 2490.7C1451.7 2490.7 1452.5 2490.6 1453.3 2490.4C1453.8 2490.2 1454.3 2488 1454.8 2483.6C1455.1 2480.3 1455.5 2446.4 1455.8 2415.7C1456.2 2385 1456.6 2320.5 1456.9 2272.9C1457.3 2225.2 1457.6 2170.8 1458 2130C1458.3 2089.2 1458.7 2046.7 1459.1 2022.9C1459.5 1991.1 1460 1963.3 1460.5 1953.2C1461.2 1938.1 1461.9 1928.8 1462.6 1925.7C1464.1 1919.6 1465.5 1916.6 1466.9 1915.7C1469.3 1914.2 1471.7 1913.6 1474.1 1913.2C1477.6 1912.6 1481.2 1912.1 1484.8 1912.1C1487.2 1912.1 1489.5 1912.5 1491.9 1913.2C1492.9 1913.5 1493.8 1915.3 1494.8 1917.9C1495.5 1919.7 1496.2 1926.7 1496.9 1931.1C1497.6 1935.5 1498.3 1941 1499.1 1944.3C1499.9 1948.1 1500.7 1951.8 1501.6 1953.2C1503.1 1955.8 1504.7 1957.2 1506.2 1957.9C1508.6 1958.9 1511 1959.4 1513.3 1959.6C1515.1 1959.8 1516.9 1960 1518.7 1960" fill="none" stroke="#C8535D" stroke-width="6.7" stroke-linecap="round" stroke-linejoin="round" clip-path="url(#clipg)"/>
<path d="M1528 2490.7C1541.1 2490.7 1554.2 2490.7 1567.2 2490.7C1567.6 2490.7 1568 2489.9 1568.3 2489.3C1569 2488.1 1569.7 2487.2 1570.5 2483.6C1570.9 2481.2 1571.4 2467.8 1571.9 2451.4C1572.2 2439.1 1572.6 2408.6 1573 2380C1573.3 2351.4 1573.7 2308.6 1574 2272.9C1574.4 2237.1 1574.7 2194.3 1575.1 2165.7C1575.5 2137.1 1575.8 2111.7 1576.2 2094.3C1576.7 2071.1 1577.1 2053.3 1577.6 2040.7C1578.2 2025 1578.8 2013 1579.4 2005C1580.1 1995.4 1580.8 1988.4 1581.5 1983.6C1582.5 1977.1 1583.4 1972 1584.4 1969.3C1585.5 1966.2 1586.5 1963.8 1587.6 1962.9C1589.2 1961.5 1590.7 1960.6 1592.2 1960.4C1593.4 1960.2 1594.6 1960 1595.8 1960" fill="none" stroke="#426A96" stroke-width="6.7" stroke-linecap="round" stroke-linejoin="round" clip-path="url(#clipg)"/>
<path d="M1528 2490.7C1528.8 2490.7 1529.6 2490.6 1530.5 2490.4C1530.9 2490.2 1531.4 2488 1531.9 2483.6C1532.2 2480.3 1532.6 2446.4 1533 2415.7C1533.3 2385 1533.7 2320.5 1534 2272.9C1534.4 2225.2 1534.7 2170.8 1535.1 2130C1535.5 2089.2 1535.8 2046.7 1536.2 2022.9C1536.7 1991.1 1537.1 1963.3 1537.6 1953.2C1538.3 1938.1 1539 1928.8 1539.7 1925.7C1541.2 1919.6 1542.6 1916.6 1544 1915.7C1546.4 1914.2 1548.8 1913.6 1551.2 1913.2C1554.7 1912.6 1558.3 1912.1 1561.9 1912.1C1564.3 1912.1 1566.7 1912.5 1569 1913.2C1570 1913.5 1570.9 1915.3 1571.9 1917.9C1572.6 1919.7 1573.3 1926.7 1574 1931.1C1574.7 1935.5 1575.5 1941 1576.2 1944.3C1577 1948.1 1577.8 1951.8 1578.7 1953.2C1580.2 1955.8 1581.8 1957.2 1583.3 1957.9C1585.7 1958.9 1588.1 1959.4 1590.5 1959.6C1592.2 1959.8 1594 1960 1595.8 1960" fill="none" stroke="#C8535D" stroke-width="6.7" stroke-linecap="round" stroke-linejoin="round" clip-path="url(#clipg)"/>
<path d="M1605.1 2490.7C1618.2 2490.7 1631.3 2490.7 1644.4 2490.7C1644.7 2490.7 1645.1 2489.9 1645.4 2489.3C1646.1 2488.1 1646.9 2487.2 1647.6 2483.6C1648.1 2481.2 1648.5 2467.8 1649 2451.4C1649.4 2439.1 1649.7 2408.6 1650.1 2380C1650.4 2351.4 1650.8 2308.6 1651.1 2272.9C1651.5 2237.1 1651.9 2194.3 1652.2 2165.7C1652.6 2137.1 1652.9 2111.7 1653.3 2094.3C1653.8 2071.1 1654.2 2053.3 1654.7 2040.7C1655.3 2025 1655.9 2013 1656.5 2005C1657.2 1995.4 1657.9 1988.4 1658.6 1983.6C1659.6 1977.1 1660.6 1972 1661.5 1969.3C1662.6 1966.2 1663.6 1963.8 1664.7 1962.9C1666.3 1961.5 1667.8 1960.6 1669.4 1960.4C1670.6 1960.2 1671.7 1960 1672.9 1960" fill="none" stroke="#426A96" stroke-width="6.7" stroke-linecap="round" stroke-linejoin="round" clip-path="url(#clipg)"/>
<path d="M1605.1 2490.7C1605.9 2490.7 1606.7 2490.6 1607.6 2490.4C1608.1 2490.2 1608.5 2488 1609 2483.6C1609.4 2480.3 1609.7 2446.4 1610.1 2415.7C1610.4 2385 1610.8 2320.5 1611.1 2272.9C1611.5 2225.2 1611.9 2170.8 1612.2 2130C1612.6 2089.2 1612.9 2046.7 1613.3 2022.9C1613.8 1991.1 1614.2 1963.3 1614.7 1953.2C1615.4 1938.1 1616.1 1928.8 1616.9 1925.7C1618.3 1919.6 1619.7 1916.6 1621.1 1915.7C1623.5 1914.2 1625.9 1913.6 1628.3 1913.2C1631.9 1912.6 1635.4 1912.1 1639 1912.1C1641.4 1912.1 1643.8 1912.5 1646.1 1913.2C1647.1 1913.5 1648.1 1915.3 1649 1917.9C1649.7 1919.7 1650.4 1926.7 1651.1 1931.1C1651.9 1935.5 1652.6 1941 1653.3 1944.3C1654.1 1948.1 1655 1951.8 1655.8 1953.2C1657.3 1955.8 1658.9 1957.2 1660.4 1957.9C1662.8 1958.9 1665.2 1959.4 1667.6 1959.6C1669.4 1959.8 1671.1 1960 1672.9 1960" fill="none" stroke="#C8535D" stroke-width="6.7" stroke-linecap="round" stroke-linejoin="round" clip-path="url(#clipg)"/>
<path d="M1682.2 2490.7C1695.3 2490.7 1708.4 2490.7 1721.5 2490.7C1721.8 2490.7 1722.2 2489.9 1722.5 2489.3C1723.3 2488.1 1724 2487.2 1724.7 2483.6C1725.2 2481.2 1725.6 2467.8 1726.1 2451.4C1726.5 2439.1 1726.8 2408.6 1727.2 2380C1727.5 2351.4 1727.9 2308.6 1728.3 2272.9C1728.6 2237.1 1729 2194.3 1729.3 2165.7C1729.7 2137.1 1730 2111.7 1730.4 2094.3C1730.9 2071.1 1731.4 2053.3 1731.8 2040.7C1732.4 2025 1733 2013 1733.6 2005C1734.3 1995.4 1735 1988.4 1735.8 1983.6C1736.7 1977.1 1737.7 1972 1738.6 1969.3C1739.7 1966.2 1740.8 1963.8 1741.8 1962.9C1743.4 1961.5 1744.9 1960.6 1746.5 1960.4C1747.7 1960.2 1748.9 1960 1750 1960" fill="none" stroke="#426A96" stroke-width="6.7" stroke-linecap="round" stroke-linejoin="round" clip-path="url(#clipg)"/>
<path d="M1682.2 2490.7C1683 2490.7 1683.9 2490.6 1684.7 2490.4C1685.2 2490.2 1685.6 2488 1686.1 2483.6C1686.5 2480.3 1686.8 2446.4 1687.2 2415.7C1687.5 2385 1687.9 2320.5 1688.3 2272.9C1688.6 2225.2 1689 2170.8 1689.3 2130C1689.7 2089.2 1690 2046.7 1690.4 2022.9C1690.9 1991.1 1691.4 1963.3 1691.8 1953.2C1692.5 1938.1 1693.3 1928.8 1694 1925.7C1695.4 1919.6 1696.8 1916.6 1698.3 1915.7C1700.6 1914.2 1703 1913.6 1705.4 1913.2C1709 1912.6 1712.5 1912.1 1716.1 1912.1C1718.5 1912.1 1720.9 1912.5 1723.3 1913.2C1724.2 1913.5 1725.2 1915.3 1726.1 1917.9C1726.8 1919.7 1727.5 1926.7 1728.3 1931.1C1729 1935.5 1729.7 1941 1730.4 1944.3C1731.2 1948.1 1732.1 1951.8 1732.9 1953.2C1734.5 1955.8 1736 1957.2 1737.5 1957.9C1739.9 1958.9 1742.3 1959.4 1744.7 1959.6C1746.5 1959.8 1748.3 1960 1750 1960" fill="none" stroke="#C8535D" stroke-width="6.7" stroke-linecap="round" stroke-linejoin="round" clip-path="url(#clipg)"/>
<path d="M1759.3 2490.7C1772.4 2490.7 1785.5 2490.7 1798.6 2490.7C1798.9 2490.7 1799.3 2489.9 1799.7 2489.3C1800.4 2488.1 1801.1 2487.2 1801.8 2483.6C1802.3 2481.2 1802.8 2467.8 1803.2 2451.4C1803.6 2439.1 1803.9 2408.6 1804.3 2380C1804.7 2351.4 1805 2308.6 1805.4 2272.9C1805.7 2237.1 1806.1 2194.3 1806.4 2165.7C1806.8 2137.1 1807.2 2111.7 1807.5 2094.3C1808 2071.1 1808.5 2053.3 1808.9 2040.7C1809.5 2025 1810.1 2013 1810.7 2005C1811.4 1995.4 1812.2 1988.4 1812.9 1983.6C1813.8 1977.1 1814.8 1972 1815.7 1969.3C1816.8 1966.2 1817.9 1963.8 1818.9 1962.9C1820.5 1961.5 1822 1960.6 1823.6 1960.4C1824.8 1960.2 1826 1960 1827.2 1960" fill="none" stroke="#426A96" stroke-width="6.7" stroke-linecap="round" stroke-linejoin="round" clip-path="url(#clipg)"/>
<path d="M1759.3 2490.7C1760.1 2490.7 1761 2490.6 1761.8 2490.4C1762.3 2490.2 1762.8 2488 1763.2 2483.6C1763.6 2480.3 1763.9 2446.4 1764.3 2415.7C1764.7 2385 1765 2320.5 1765.4 2272.9C1765.7 2225.2 1766.1 2170.8 1766.4 2130C1766.8 2089.2 1767.2 2046.7 1767.5 2022.9C1768 1991.1 1768.5 1963.3 1768.9 1953.2C1769.7 1938.1 1770.4 1928.8 1771.1 1925.7C1772.5 1919.6 1773.9 1916.6 1775.4 1915.7C1777.8 1914.2 1780.1 1913.6 1782.5 1913.2C1786.1 1912.6 1789.7 1912.1 1793.2 1912.1C1795.6 1912.1 1798 1912.5 1800.4 1913.2C1801.3 1913.5 1802.3 1915.3 1803.2 1917.9C1803.9 1919.7 1804.7 1926.7 1805.4 1931.1C1806.1 1935.5 1806.8 1941 1807.5 1944.3C1808.4 1948.1 1809.2 1951.8 1810 1953.2C1811.6 1955.8 1813.1 1957.2 1814.7 1957.9C1817 1958.9 1819.4 1959.4 1821.8 1959.6C1823.6 1959.8 1825.4 1960 1827.2 1960" fill="none" stroke="#C8535D" stroke-width="6.7" stroke-linecap="round" stroke-linejoin="round" clip-path="url(#clipg)"/>
<path d="M1836.4 2490.7C1849.5 2490.7 1862.6 2490.7 1875.7 2490.7C1876.1 2490.7 1876.4 2489.9 1876.8 2489.3C1877.5 2488.1 1878.2 2487.2 1878.9 2483.6C1879.4 2481.2 1879.9 2467.8 1880.3 2451.4C1880.7 2439.1 1881.1 2408.6 1881.4 2380C1881.8 2351.4 1882.1 2308.6 1882.5 2272.9C1882.8 2237.1 1883.2 2194.3 1883.6 2165.7C1883.9 2137.1 1884.3 2111.7 1884.6 2094.3C1885.1 2071.1 1885.6 2053.3 1886.1 2040.7C1886.7 2025 1887.3 2013 1887.8 2005C1888.6 1995.4 1889.3 1988.4 1890 1983.6C1890.9 1977.1 1891.9 1972 1892.8 1969.3C1893.9 1966.2 1895 1963.8 1896.1 1962.9C1897.6 1961.5 1899.2 1960.6 1900.7 1960.4C1901.9 1960.2 1903.1 1960 1904.3 1960" fill="none" stroke="#426A96" stroke-width="6.7" stroke-linecap="round" stroke-linejoin="round" clip-path="url(#clipg)"/>
<path d="M1836.4 2490.7C1837.3 2490.7 1838.1 2490.6 1838.9 2490.4C1839.4 2490.2 1839.9 2488 1840.3 2483.6C1840.7 2480.3 1841.1 2446.4 1841.4 2415.7C1841.8 2385 1842.1 2320.5 1842.5 2272.9C1842.8 2225.2 1843.2 2170.8 1843.6 2130C1843.9 2089.2 1844.3 2046.7 1844.6 2022.9C1845.1 1991.1 1845.6 1963.3 1846.1 1953.2C1846.8 1938.1 1847.5 1928.8 1848.2 1925.7C1849.6 1919.6 1851.1 1916.6 1852.5 1915.7C1854.9 1914.2 1857.3 1913.6 1859.6 1913.2C1863.2 1912.6 1866.8 1912.1 1870.3 1912.1C1872.7 1912.1 1875.1 1912.5 1877.5 1913.2C1878.4 1913.5 1879.4 1915.3 1880.3 1917.9C1881.1 1919.7 1881.8 1926.7 1882.5 1931.1C1883.2 1935.5 1883.9 1941 1884.6 1944.3C1885.5 1948.1 1886.3 1951.8 1887.1 1953.2C1888.7 1955.8 1890.2 1957.2 1891.8 1957.9C1894.2 1958.9 1896.5 1959.4 1898.9 1959.6C1900.7 1959.8 1902.5 1960 1904.3 1960" fill="none" stroke="#C8535D" stroke-width="6.7" stroke-linecap="round" stroke-linejoin="round" clip-path="url(#clipg)"/>
<path d="M1913.5 2490.7C1926.6 2490.7 1939.7 2490.7 1952.8 2490.7C1953.2 2490.7 1953.5 2489.9 1953.9 2489.3C1954.6 2488.1 1955.3 2487.2 1956 2483.6C1956.5 2481.2 1957 2467.8 1957.5 2451.4C1957.8 2439.1 1958.2 2408.6 1958.5 2380C1958.9 2351.4 1959.2 2308.6 1959.6 2272.9C1960 2237.1 1960.3 2194.3 1960.7 2165.7C1961 2137.1 1961.4 2111.7 1961.7 2094.3C1962.2 2071.1 1962.7 2053.3 1963.2 2040.7C1963.8 2025 1964.4 2013 1965 2005C1965.7 1995.4 1966.4 1988.4 1967.1 1983.6C1968.1 1977.1 1969 1972 1970 1969.3C1971 1966.2 1972.1 1963.8 1973.2 1962.9C1974.7 1961.5 1976.3 1960.6 1977.8 1960.4C1979 1960.2 1980.2 1960 1981.4 1960" fill="none" stroke="#426A96" stroke-width="6.7" stroke-linecap="round" stroke-linejoin="round" clip-path="url(#clipg)"/>
<path d="M1913.5 2490.7C1914.4 2490.7 1915.2 2490.6 1916 2490.4C1916.5 2490.2 1917 2488 1917.5 2483.6C1917.8 2480.3 1918.2 2446.4 1918.5 2415.7C1918.9 2385 1919.2 2320.5 1919.6 2272.9C1920 2225.2 1920.3 2170.8 1920.7 2130C1921 2089.2 1921.4 2046.7 1921.7 2022.9C1922.2 1991.1 1922.7 1963.3 1923.2 1953.2C1923.9 1938.1 1924.6 1928.8 1925.3 1925.7C1926.7 1919.6 1928.2 1916.6 1929.6 1915.7C1932 1914.2 1934.4 1913.6 1936.7 1913.2C1940.3 1912.6 1943.9 1912.1 1947.5 1912.1C1949.8 1912.1 1952.2 1912.5 1954.6 1913.2C1955.6 1913.5 1956.5 1915.3 1957.5 1917.9C1958.2 1919.7 1958.9 1926.7 1959.6 1931.1C1960.3 1935.5 1961 1941 1961.7 1944.3C1962.6 1948.1 1963.4 1951.8 1964.2 1953.2C1965.8 1955.8 1967.3 1957.2 1968.9 1957.9C1971.3 1958.9 1973.7 1959.4 1976 1959.6C1977.8 1959.8 1979.6 1960 1981.4 1960" fill="none" stroke="#C8535D" stroke-width="6.7" stroke-linecap="round" stroke-linejoin="round" clip-path="url(#clipg)"/>
<path d="M2263 2478.5C2353.7 2478.5 2444.4 2478.5 2535.1 2478.5C2540.6 2478.5 2546.1 2477.1 2551.6 2476.2C2557.1 2475.4 2562.6 2474.7 2568 2473.3C2573.5 2472 2579 2469.2 2584.5 2466.7C2590 2464.2 2595.5 2461.5 2601 2458.1C2607.9 2453.7 2614.8 2447.9 2621.6 2441.6C2628.5 2435.2 2635.4 2427.1 2642.3 2418.9C2649.1 2410.7 2656 2400.9 2662.9 2392.1C2669.7 2383.3 2676.6 2374.9 2683.5 2366.1C2690.3 2357.4 2697.2 2348.3 2704.1 2339.8C2711 2331.2 2717.8 2322.3 2724.7 2315C2731.6 2307.7 2738.4 2301.2 2745.3 2295.2C2752.2 2289.2 2759.1 2283.9 2765.9 2278.7C2772.8 2273.6 2779.7 2268.7 2786.5 2264.3C2793.4 2260 2800.3 2255.8 2807.2 2252.4C2814 2248.9 2820.9 2245.8 2827.8 2243.3C2834.6 2240.7 2841.5 2238.7 2848.4 2236.7C2855.2 2234.7 2862.1 2232.9 2869 2231.3C2875.9 2229.8 2882.7 2228.6 2889.6 2227.2C2896.5 2225.8 2903.3 2224.2 2910.2 2223.1C2917.1 2222 2924 2220.8 2930.8 2220.2C2944.6 2219 2958.3 2218.3 2972.1 2217.7C2985.8 2217.2 2999.5 2216.7 3013.3 2216.5C3029.8 2216.3 3046.3 2216.1 3062.7 2216.1" fill="none" stroke="#C8535D" stroke-width="8.6" stroke-linecap="round" stroke-linejoin="round" clip-path="url(#cliph)"/>
<path d="M2263 2478.5C2276.7 2478.5 2290.5 2478.5 2304.2 2478.5C2309.7 2478.5 2315.2 2477 2320.7 2475.8C2326.2 2474.6 2331.7 2473.1 2337.2 2470.4C2341.3 2468.5 2345.4 2464.7 2349.6 2460.1C2353 2456.3 2356.4 2450.4 2359.9 2443.6C2362.6 2438.2 2365.4 2431.6 2368.1 2423C2370.4 2415.7 2372.8 2406 2375.1 2394.2C2377 2384.4 2379 2372.7 2380.9 2357.1C2382.5 2343.7 2384.2 2324.3 2385.8 2303.5C2387.2 2286.1 2388.6 2264.6 2390 2241.6C2391.1 2223.2 2392.2 2201.1 2393.3 2179.8C2394.4 2158.5 2395.5 2135.8 2396.5 2113.8C2397.6 2091.9 2398.7 2069.2 2399.8 2047.9C2400.9 2026.6 2402 2003 2403.1 1986C2404.5 1964.8 2405.9 1946.1 2407.3 1932.5C2408.6 1918.8 2410 1906.6 2411.4 1899.5C2412.8 1892.4 2414.1 1886.3 2415.5 1883.8C2416.6 1881.8 2417.7 1879.7 2418.8 1879.7C2419.9 1879.7 2421 1881.7 2422.1 1883.8C2423.5 1886.4 2424.9 1894.2 2426.2 1901.5C2427.9 1910.3 2429.5 1923.9 2431.2 1936.6C2432.8 1949.2 2434.5 1964.3 2436.1 1977.8C2438.2 1994.6 2440.2 2011.5 2442.3 2027.3C2444.4 2043 2446.4 2059.5 2448.5 2072.6C2451 2088.3 2453.4 2102.7 2455.9 2113.8C2458.7 2126.2 2461.4 2136.5 2464.2 2144.8C2467.2 2153.9 2470.2 2161.5 2473.2 2167.4C2476.7 2174.2 2480.1 2179.8 2483.5 2183.9C2487.7 2188.8 2491.8 2193.1 2495.9 2195.5C2500.7 2198.2 2505.5 2199.9 2510.3 2201.2C2515.8 2202.7 2521.3 2204.1 2526.8 2204.5C2537.8 2205.5 2548.8 2205.8 2559.8 2206.2C2587.3 2207.3 2614.8 2207.7 2642.3 2208.7C2669.7 2209.6 2697.2 2211 2724.7 2212C2752.2 2212.9 2779.7 2213.9 2807.2 2214.4C2834.6 2215 2862.1 2215.5 2889.6 2215.7C2947.3 2215.9 3005 2216.1 3062.7 2216.1" fill="none" stroke="#CFB678" stroke-width="8.6" stroke-linecap="round" stroke-linejoin="round" clip-path="url(#cliph)"/>
<path d="M2263 2478.5C2272.6 2478.1 2282.2 2477.4 2291.8 2476.6C2301.5 2475.8 2311.1 2474.6 2320.7 2473.3C2330.3 2472 2339.9 2470.2 2349.6 2468.4C2356.4 2467.1 2363.3 2466.2 2370.2 2464.3C2375.7 2462.7 2381.2 2460.2 2386.7 2456.8C2390.8 2454.3 2394.9 2450.9 2399 2445.7C2402.5 2441.4 2405.9 2434 2409.3 2425.1C2411.7 2419 2414 2410.6 2416.3 2400.4C2418.3 2391.9 2420.2 2380.2 2422.1 2367.4C2423.8 2356.4 2425.4 2341.6 2427.1 2328.2C2428.7 2314.8 2430.4 2300 2432 2287C2433.7 2274 2435.3 2260.7 2437 2249.9C2438.7 2238.2 2440.5 2226.1 2442.3 2219C2444.4 2210.8 2446.4 2205.3 2448.5 2200.4C2451 2194.5 2453.4 2189.6 2455.9 2186C2458.9 2181.6 2462 2178.3 2465 2175.7C2469.1 2172.2 2473.2 2169.6 2477.4 2167.4C2482.8 2164.6 2488.3 2161.8 2493.8 2160.4C2499.3 2159.1 2504.8 2158.2 2510.3 2157.5C2515.8 2156.8 2521.3 2156.1 2526.8 2155.9C2535.1 2155.6 2543.3 2155.5 2551.6 2155.5C2561.2 2155.5 2570.8 2156.1 2580.4 2156.7C2590 2157.3 2599.7 2158.6 2609.3 2160C2620.3 2161.6 2631.3 2164.2 2642.3 2166.6C2653.2 2169.1 2664.2 2172 2675.2 2174.9C2686.2 2177.7 2697.2 2180.9 2708.2 2183.9C2719.2 2186.9 2730.2 2190.3 2741.2 2193C2752.2 2195.7 2763.2 2198.2 2774.2 2200.4C2785.2 2202.6 2796.2 2204.7 2807.2 2206.2C2820.9 2208.1 2834.6 2209.7 2848.4 2210.7C2862.1 2211.8 2875.9 2212.6 2889.6 2213.2C2910.2 2214.1 2930.8 2215 2951.4 2215.3C2988.5 2215.7 3025.6 2216.1 3062.7 2216.1" fill="none" stroke="#426A96" stroke-width="8.6" stroke-linecap="round" stroke-linejoin="round" clip-path="url(#cliph)"/>
<rect x="156.6" y="59" width="842.5" height="678.4" fill="none" stroke="#000" stroke-width="6.4"/>
<rect x="1292.7" y="59.4" width="1785.8" height="678.5" fill="none" stroke="#000" stroke-width="6.4"/>
<rect x="156.4" y="949.1" width="840.8" height="677.4" fill="none" stroke="#000" stroke-width="6.4"/>
<rect x="1200.3" y="951.6" width="840" height="675.9" fill="none" stroke="#000" stroke-width="6.4"/>
<rect x="2235.1" y="947.4" width="844" height="679.1" fill="none" stroke="#000" stroke-width="6.4"/>
<rect x="157" y="1828" width="842.8" height="679.4" fill="none" stroke="#000" stroke-width="6.4"/>
<rect x="1199.2" y="1828.1" width="843.3" height="678.6" fill="none" stroke="#000" stroke-width="6.4"/>
<rect x="2235.7" y="1829" width="839.2" height="675.5" fill="none" stroke="#000" stroke-width="6.4"/>
<path d="M175.4 737.4 v13.4M356.9 737.4 v13.4M538.5 737.4 v13.4M720 737.4 v13.4M901.6 737.4 v13.4" stroke="#000" stroke-width="6.6" fill="none"/>
<path d="M266.2 737.4 v6.8M447.7 737.4 v6.8M629.3 737.4 v6.8M810.8 737.4 v6.8M992.4 737.4 v6.8" stroke="#000" stroke-width="6.0" fill="none"/>
<text x="175.4" y="790.2" font-size="38.5" text-anchor="middle" fill="#000">0</text>
<text x="356.9" y="790.2" font-size="38.5" text-anchor="middle" fill="#000">50</text>
<text x="538.5" y="790.2" font-size="38.5" text-anchor="middle" fill="#000">100</text>
<text x="720" y="790.2" font-size="38.5" text-anchor="middle" fill="#000">150</text>
<text x="901.6" y="790.2" font-size="38.5" text-anchor="middle" fill="#000">200</text>
<path d="M156.6 721.2 h-13.4M156.6 617.5 h-13.4M156.6 513.8 h-13.4M156.6 410 h-13.4M156.6 306.3 h-13.4M156.6 202.6 h-13.4M156.6 98.9 h-13.4" stroke="#000" stroke-width="6.6" fill="none"/>
<path d="M156.6 669.3 h-6.8M156.6 565.6 h-6.8M156.6 461.9 h-6.8M156.6 358.2 h-6.8M156.6 254.4 h-6.8M156.6 150.7 h-6.8" stroke="#000" stroke-width="6.0" fill="none"/>
<text x="134.4" y="732.8" font-size="38.5" text-anchor="end" fill="#000">0.00</text>
<text x="134.4" y="629.1" font-size="38.5" text-anchor="end" fill="#000">0.25</text>
<text x="134.4" y="525.4" font-size="38.5" text-anchor="end" fill="#000">0.50</text>
<text x="134.4" y="421.6" font-size="38.5" text-anchor="end" fill="#000">0.75</text>
<text x="134.4" y="317.9" font-size="38.5" text-anchor="end" fill="#000">1.00</text>
<text x="134.4" y="214.2" font-size="38.5" text-anchor="end" fill="#000">1.25</text>
<text x="134.4" y="110.5" font-size="38.5" text-anchor="end" fill="#000">1.50</text>
<text x="577.9" y="857.2" font-size="41.0" text-anchor="middle" fill="#000">Time (min/g)</text>
<text x="34.2" y="418" font-size="41.0" text-anchor="start" fill="#000" transform="rotate(-90 34.2 418)">F/F<tspan font-size="28.5" dy="12">0</tspan><tspan dy="-12">&#8203;</tspan></text>
<text x="-2.4" y="52" font-size="73" text-anchor="start" fill="#000">(a)</text>
<path d="M1308.6 737.9 v13.4M1473.3 737.9 v13.4M1638 737.9 v13.4M1802.7 737.9 v13.4M1967.4 737.9 v13.4M2132.1 737.9 v13.4M2296.9 737.9 v13.4M2461.6 737.9 v13.4M2626.3 737.9 v13.4M2791 737.9 v13.4M2955.7 737.9 v13.4" stroke="#000" stroke-width="6.6" fill="none"/>
<path d="M1391 737.9 v6.8M1555.7 737.9 v6.8M1720.4 737.9 v6.8M1885.1 737.9 v6.8M2049.8 737.9 v6.8M2214.5 737.9 v6.8M2379.2 737.9 v6.8M2543.9 737.9 v6.8M2708.6 737.9 v6.8M2873.3 737.9 v6.8M3038.1 737.9 v6.8" stroke="#000" stroke-width="6.0" fill="none"/>
<text x="1308.6" y="790.7" font-size="38.5" text-anchor="middle" fill="#000">0</text>
<text x="1473.3" y="790.7" font-size="38.5" text-anchor="middle" fill="#000">20</text>
<text x="1638" y="790.7" font-size="38.5" text-anchor="middle" fill="#000">40</text>
<text x="1802.7" y="790.7" font-size="38.5" text-anchor="middle" fill="#000">60</text>
<text x="1967.4" y="790.7" font-size="38.5" text-anchor="middle" fill="#000">80</text>
<text x="2132.1" y="790.7" font-size="38.5" text-anchor="middle" fill="#000">100</text>
<text x="2296.9" y="790.7" font-size="38.5" text-anchor="middle" fill="#000">120</text>
<text x="2461.6" y="790.7" font-size="38.5" text-anchor="middle" fill="#000">140</text>
<text x="2626.3" y="790.7" font-size="38.5" text-anchor="middle" fill="#000">160</text>
<text x="2791" y="790.7" font-size="38.5" text-anchor="middle" fill="#000">180</text>
<text x="2955.7" y="790.7" font-size="38.5" text-anchor="middle" fill="#000">200</text>
<path d="M1292.7 701.8 h-13.4M1292.7 517.8 h-13.4M1292.7 333.8 h-13.4M1292.7 149.8 h-13.4" stroke="#000" stroke-width="6.6" fill="none"/>
<path d="M1292.7 609.8 h-6.8M1292.7 425.8 h-6.8M1292.7 241.8 h-6.8M1292.7 57.8 h-6.8" stroke="#000" stroke-width="6.0" fill="none"/>
<text x="1270.5" y="713.4" font-size="38.5" text-anchor="end" fill="#000">0.0E+00</text>
<text x="1270.5" y="529.4" font-size="38.5" text-anchor="end" fill="#000">1.0E-09</text>
<text x="1270.5" y="345.4" font-size="38.5" text-anchor="end" fill="#000">2.0E-09</text>
<text x="1270.5" y="161.4" font-size="38.5" text-anchor="end" fill="#000">3.0E-09</text>
<text x="2185.6" y="857.7" font-size="41.0" text-anchor="middle" fill="#000">Time (min)</text>
<text x="1080.8" y="536.5" font-size="41.0" text-anchor="start" fill="#000" transform="rotate(-90 1080.8 536.5)">Signal Intensity</text>
<text x="1044.6" y="51.4" font-size="73" text-anchor="start" fill="#000">(b)</text>
<path d="M179.4 1626.5 v13.4M293 1626.5 v13.4M406.6 1626.5 v13.4M520.2 1626.5 v13.4M633.8 1626.5 v13.4M747.4 1626.5 v13.4M861 1626.5 v13.4M974.6 1626.5 v13.4" stroke="#000" stroke-width="6.6" fill="none"/>
<path d="M236.2 1626.5 v6.8M349.8 1626.5 v6.8M463.4 1626.5 v6.8M577 1626.5 v6.8M690.6 1626.5 v6.8M804.2 1626.5 v6.8M917.8 1626.5 v6.8" stroke="#000" stroke-width="6.0" fill="none"/>
<text x="179.4" y="1679.3" font-size="38.5" text-anchor="middle" fill="#000">0</text>
<text x="293" y="1679.3" font-size="38.5" text-anchor="middle" fill="#000">10</text>
<text x="406.6" y="1679.3" font-size="38.5" text-anchor="middle" fill="#000">20</text>
<text x="520.2" y="1679.3" font-size="38.5" text-anchor="middle" fill="#000">30</text>
<text x="633.8" y="1679.3" font-size="38.5" text-anchor="middle" fill="#000">40</text>
<text x="747.4" y="1679.3" font-size="38.5" text-anchor="middle" fill="#000">50</text>
<text x="861" y="1679.3" font-size="38.5" text-anchor="middle" fill="#000">60</text>
<text x="974.6" y="1679.3" font-size="38.5" text-anchor="middle" fill="#000">70</text>
<path d="M156.4 1611.1 h-13.4M156.4 1453.3 h-13.4M156.4 1295.5 h-13.4M156.4 1137.8 h-13.4M156.4 980 h-13.4" stroke="#000" stroke-width="6.6" fill="none"/>
<path d="M156.4 1532.2 h-6.8M156.4 1374.4 h-6.8M156.4 1216.7 h-6.8M156.4 1058.9 h-6.8" stroke="#000" stroke-width="6.0" fill="none"/>
<text x="134.2" y="1622.7" font-size="38.5" text-anchor="end" fill="#000">0.0</text>
<text x="134.2" y="1464.9" font-size="38.5" text-anchor="end" fill="#000">0.5</text>
<text x="134.2" y="1307.1" font-size="38.5" text-anchor="end" fill="#000">1.0</text>
<text x="134.2" y="1149.4" font-size="38.5" text-anchor="end" fill="#000">1.5</text>
<text x="134.2" y="991.6" font-size="38.5" text-anchor="end" fill="#000">2.0</text>
<text x="576.8" y="1746.3" font-size="41.0" text-anchor="middle" fill="#000">Time (min/g)</text>
<text x="30.1" y="1311" font-size="41.0" text-anchor="start" fill="#000" transform="rotate(-90 30.1 1311)">F/F<tspan font-size="28.5" dy="12">0</tspan><tspan dy="-12">&#8203;</tspan></text>
<text x="-2.2" y="945.8" font-size="73" text-anchor="start" fill="#000">(c)</text>
<path d="M1220.5 1627.5 v13.4M1348.7 1627.5 v13.4M1476.8 1627.5 v13.4M1605 1627.5 v13.4M1733.1 1627.5 v13.4M1861.2 1627.5 v13.4M1989.4 1627.5 v13.4" stroke="#000" stroke-width="6.6" fill="none"/>
<path d="M1284.6 1627.5 v6.8M1412.7 1627.5 v6.8M1540.9 1627.5 v6.8M1669 1627.5 v6.8M1797.2 1627.5 v6.8M1925.3 1627.5 v6.8" stroke="#000" stroke-width="6.0" fill="none"/>
<text x="1220.5" y="1680.3" font-size="38.5" text-anchor="middle" fill="#000">0</text>
<text x="1348.7" y="1680.3" font-size="38.5" text-anchor="middle" fill="#000">25</text>
<text x="1476.8" y="1680.3" font-size="38.5" text-anchor="middle" fill="#000">50</text>
<text x="1605" y="1680.3" font-size="38.5" text-anchor="middle" fill="#000">75</text>
<text x="1733.1" y="1680.3" font-size="38.5" text-anchor="middle" fill="#000">100</text>
<text x="1861.2" y="1680.3" font-size="38.5" text-anchor="middle" fill="#000">125</text>
<text x="1989.4" y="1680.3" font-size="38.5" text-anchor="middle" fill="#000">150</text>
<path d="M1200.3 1609.7 h-13.4M1200.3 1496 h-13.4M1200.3 1382.2 h-13.4M1200.3 1268.5 h-13.4M1200.3 1154.7 h-13.4M1200.3 1041 h-13.4" stroke="#000" stroke-width="6.6" fill="none"/>
<path d="M1200.3 1552.8 h-6.8M1200.3 1439.1 h-6.8M1200.3 1325.4 h-6.8M1200.3 1211.6 h-6.8M1200.3 1097.9 h-6.8M1200.3 984.1 h-6.8" stroke="#000" stroke-width="6.0" fill="none"/>
<text x="1178.1" y="1621.3" font-size="38.5" text-anchor="end" fill="#000">0.00</text>
<text x="1178.1" y="1507.6" font-size="38.5" text-anchor="end" fill="#000">0.25</text>
<text x="1178.1" y="1393.8" font-size="38.5" text-anchor="end" fill="#000">0.50</text>
<text x="1178.1" y="1280.1" font-size="38.5" text-anchor="end" fill="#000">0.75</text>
<text x="1178.1" y="1166.3" font-size="38.5" text-anchor="end" fill="#000">1.00</text>
<text x="1178.1" y="1052.6" font-size="38.5" text-anchor="end" fill="#000">1.25</text>
<text x="1620.3" y="1747.3" font-size="41.0" text-anchor="middle" fill="#000">Time (min/g)</text>
<text x="1077" y="1313.5" font-size="41.0" text-anchor="start" fill="#000" transform="rotate(-90 1077 1313.5)">F/F<tspan font-size="28.5" dy="12">0</tspan><tspan dy="-12">&#8203;</tspan></text>
<text x="1038.6" y="945.8" font-size="73" text-anchor="start" fill="#000">(d)</text>
<path d="M2259.7 1626.5 v13.4M2383.8 1626.5 v13.4M2508 1626.5 v13.4M2632.1 1626.5 v13.4M2756.3 1626.5 v13.4M2880.4 1626.5 v13.4M3004.6 1626.5 v13.4" stroke="#000" stroke-width="6.6" fill="none"/>
<path d="M2321.8 1626.5 v6.8M2445.9 1626.5 v6.8M2570.1 1626.5 v6.8M2694.2 1626.5 v6.8M2818.4 1626.5 v6.8M2942.5 1626.5 v6.8M3066.7 1626.5 v6.8" stroke="#000" stroke-width="6.0" fill="none"/>
<text x="2259.7" y="1679.3" font-size="38.5" text-anchor="middle" fill="#000">0</text>
<text x="2383.8" y="1679.3" font-size="38.5" text-anchor="middle" fill="#000">10</text>
<text x="2508" y="1679.3" font-size="38.5" text-anchor="middle" fill="#000">20</text>
<text x="2632.1" y="1679.3" font-size="38.5" text-anchor="middle" fill="#000">30</text>
<text x="2756.3" y="1679.3" font-size="38.5" text-anchor="middle" fill="#000">40</text>
<text x="2880.4" y="1679.3" font-size="38.5" text-anchor="middle" fill="#000">50</text>
<text x="3004.6" y="1679.3" font-size="38.5" text-anchor="middle" fill="#000">60</text>
<path d="M2235.1 1606.6 h-13.4M2235.1 1480.4 h-13.4M2235.1 1354.3 h-13.4M2235.1 1228.1 h-13.4M2235.1 1102 h-13.4M2235.1 975.8 h-13.4" stroke="#000" stroke-width="6.6" fill="none"/>
<path d="M2235.1 1543.5 h-6.8M2235.1 1417.4 h-6.8M2235.1 1291.2 h-6.8M2235.1 1165.1 h-6.8M2235.1 1038.9 h-6.8" stroke="#000" stroke-width="6.0" fill="none"/>
<text x="2212.9" y="1618.2" font-size="38.5" text-anchor="end" fill="#000">0.00</text>
<text x="2212.9" y="1492" font-size="38.5" text-anchor="end" fill="#000">0.25</text>
<text x="2212.9" y="1365.9" font-size="38.5" text-anchor="end" fill="#000">0.50</text>
<text x="2212.9" y="1239.7" font-size="38.5" text-anchor="end" fill="#000">0.75</text>
<text x="2212.9" y="1113.6" font-size="38.5" text-anchor="end" fill="#000">1.00</text>
<text x="2212.9" y="987.4" font-size="38.5" text-anchor="end" fill="#000">1.25</text>
<text x="2657.1" y="1746.3" font-size="41.0" text-anchor="middle" fill="#000">Time (min/g)</text>
<text x="2112.6" y="1305" font-size="41.0" text-anchor="start" fill="#000" transform="rotate(-90 2112.6 1305)">F/F<tspan font-size="28.5" dy="12">0</tspan><tspan dy="-12">&#8203;</tspan></text>
<text x="2094" y="945.8" font-size="73" text-anchor="start" fill="#000">(e)</text>
<path d="M181.6 2507.4 v13.4M305.7 2507.4 v13.4M429.8 2507.4 v13.4M553.8 2507.4 v13.4M677.9 2507.4 v13.4M802 2507.4 v13.4M926.1 2507.4 v13.4" stroke="#000" stroke-width="6.6" fill="none"/>
<path d="M243.6 2507.4 v6.8M367.7 2507.4 v6.8M491.8 2507.4 v6.8M615.9 2507.4 v6.8M740 2507.4 v6.8M864 2507.4 v6.8M988.1 2507.4 v6.8" stroke="#000" stroke-width="6.0" fill="none"/>
<text x="181.6" y="2560.2" font-size="38.5" text-anchor="middle" fill="#000">0</text>
<text x="305.7" y="2560.2" font-size="38.5" text-anchor="middle" fill="#000">10</text>
<text x="429.8" y="2560.2" font-size="38.5" text-anchor="middle" fill="#000">20</text>
<text x="553.8" y="2560.2" font-size="38.5" text-anchor="middle" fill="#000">30</text>
<text x="677.9" y="2560.2" font-size="38.5" text-anchor="middle" fill="#000">40</text>
<text x="802" y="2560.2" font-size="38.5" text-anchor="middle" fill="#000">50</text>
<text x="926.1" y="2560.2" font-size="38.5" text-anchor="middle" fill="#000">60</text>
<path d="M157 2487.3 h-13.4M157 2386.4 h-13.4M157 2285.5 h-13.4M157 2184.6 h-13.4M157 2083.7 h-13.4M157 1982.8 h-13.4M157 1881.9 h-13.4" stroke="#000" stroke-width="6.6" fill="none"/>
<path d="M157 2436.9 h-6.8M157 2336 h-6.8M157 2235.1 h-6.8M157 2134.2 h-6.8M157 2033.3 h-6.8M157 1932.4 h-6.8M157 1831.5 h-6.8" stroke="#000" stroke-width="6.0" fill="none"/>
<text x="134.8" y="2498.9" font-size="38.5" text-anchor="end" fill="#000">0.0</text>
<text x="134.8" y="2398" font-size="38.5" text-anchor="end" fill="#000">0.2</text>
<text x="134.8" y="2297.1" font-size="38.5" text-anchor="end" fill="#000">0.4</text>
<text x="134.8" y="2196.2" font-size="38.5" text-anchor="end" fill="#000">0.6</text>
<text x="134.8" y="2095.3" font-size="38.5" text-anchor="end" fill="#000">0.8</text>
<text x="134.8" y="1994.4" font-size="38.5" text-anchor="end" fill="#000">1.0</text>
<text x="134.8" y="1893.5" font-size="38.5" text-anchor="end" fill="#000">1.2</text>
<text x="578.4" y="2627.2" font-size="41.0" text-anchor="middle" fill="#000">Time (min/g)</text>
<text x="32.5" y="2188" font-size="41.0" text-anchor="start" fill="#000" transform="rotate(-90 32.5 2188)">F/F<tspan font-size="28.5" dy="12">0</tspan><tspan dy="-12">&#8203;</tspan></text>
<text x="0.2" y="1823.9" font-size="73" text-anchor="start" fill="#000">(f)</text>
<path d="M1219.5 2506.7 v13.4M1322.3 2506.7 v13.4M1425.1 2506.7 v13.4M1528 2506.7 v13.4M1630.8 2506.7 v13.4M1733.6 2506.7 v13.4M1836.4 2506.7 v13.4M1939.2 2506.7 v13.4M2042.1 2506.7 v13.4" stroke="#000" stroke-width="6.6" fill="none"/>
<path d="M1270.9 2506.7 v6.8M1373.7 2506.7 v6.8M1476.5 2506.7 v6.8M1579.4 2506.7 v6.8M1682.2 2506.7 v6.8M1785 2506.7 v6.8M1887.8 2506.7 v6.8M1990.7 2506.7 v6.8" stroke="#000" stroke-width="6.0" fill="none"/>
<text x="1219.5" y="2559.5" font-size="38.5" text-anchor="middle" fill="#000">0</text>
<text x="1322.3" y="2559.5" font-size="38.5" text-anchor="middle" fill="#000">100</text>
<text x="1425.1" y="2559.5" font-size="38.5" text-anchor="middle" fill="#000">200</text>
<text x="1528" y="2559.5" font-size="38.5" text-anchor="middle" fill="#000">300</text>
<text x="1630.8" y="2559.5" font-size="38.5" text-anchor="middle" fill="#000">400</text>
<text x="1733.6" y="2559.5" font-size="38.5" text-anchor="middle" fill="#000">500</text>
<text x="1836.4" y="2559.5" font-size="38.5" text-anchor="middle" fill="#000">600</text>
<text x="1939.2" y="2559.5" font-size="38.5" text-anchor="middle" fill="#000">700</text>
<text x="2042.1" y="2559.5" font-size="38.5" text-anchor="middle" fill="#000">800</text>
<path d="M1199.2 2491 h-13.4M1199.2 2384.8 h-13.4M1199.2 2278.6 h-13.4M1199.2 2172.3 h-13.4M1199.2 2066.1 h-13.4M1199.2 1959.9 h-13.4M1199.2 1853.7 h-13.4" stroke="#000" stroke-width="6.6" fill="none"/>
<path d="M1199.2 2437.9 h-6.8M1199.2 2331.7 h-6.8M1199.2 2225.4 h-6.8M1199.2 2119.2 h-6.8M1199.2 2013 h-6.8M1199.2 1906.8 h-6.8" stroke="#000" stroke-width="6.0" fill="none"/>
<text x="1177" y="2502.6" font-size="38.5" text-anchor="end" fill="#000">0.0</text>
<text x="1177" y="2396.4" font-size="38.5" text-anchor="end" fill="#000">0.2</text>
<text x="1177" y="2290.2" font-size="38.5" text-anchor="end" fill="#000">0.4</text>
<text x="1177" y="2183.9" font-size="38.5" text-anchor="end" fill="#000">0.6</text>
<text x="1177" y="2077.7" font-size="38.5" text-anchor="end" fill="#000">0.8</text>
<text x="1177" y="1971.5" font-size="38.5" text-anchor="end" fill="#000">1.0</text>
<text x="1177" y="1865.3" font-size="38.5" text-anchor="end" fill="#000">1.2</text>
<text x="1620.8" y="2626.5" font-size="41.0" text-anchor="middle" fill="#000">Time (min/g)</text>
<text x="1073.4" y="2190" font-size="41.0" text-anchor="start" fill="#000" transform="rotate(-90 1073.4 2190)">F/F<tspan font-size="28.5" dy="12">0</tspan><tspan dy="-12">&#8203;</tspan></text>
<text x="1045.4" y="1824.8" font-size="73" text-anchor="start" fill="#000">(g)</text>
<path d="M2262.4 2504.5 v13.4M2396.7 2504.5 v13.4M2531.1 2504.5 v13.4M2665.4 2504.5 v13.4M2799.8 2504.5 v13.4M2934.1 2504.5 v13.4M3068.4 2504.5 v13.4" stroke="#000" stroke-width="6.6" fill="none"/>
<path d="M2329.6 2504.5 v6.8M2463.9 2504.5 v6.8M2598.2 2504.5 v6.8M2732.6 2504.5 v6.8M2866.9 2504.5 v6.8M3001.3 2504.5 v6.8" stroke="#000" stroke-width="6.0" fill="none"/>
<text x="2262.4" y="2557.3" font-size="38.5" text-anchor="middle" fill="#000">0</text>
<text x="2396.7" y="2557.3" font-size="38.5" text-anchor="middle" fill="#000">20</text>
<text x="2531.1" y="2557.3" font-size="38.5" text-anchor="middle" fill="#000">40</text>
<text x="2665.4" y="2557.3" font-size="38.5" text-anchor="middle" fill="#000">60</text>
<text x="2799.8" y="2557.3" font-size="38.5" text-anchor="middle" fill="#000">80</text>
<text x="2934.1" y="2557.3" font-size="38.5" text-anchor="middle" fill="#000">100</text>
<text x="3068.4" y="2557.3" font-size="38.5" text-anchor="middle" fill="#000">120</text>
<path d="M2235.7 2478.5 h-13.4M2235.7 2347.3 h-13.4M2235.7 2216.2 h-13.4M2235.7 2085 h-13.4M2235.7 1953.8 h-13.4" stroke="#000" stroke-width="6.6" fill="none"/>
<path d="M2235.7 2412.9 h-6.8M2235.7 2281.7 h-6.8M2235.7 2150.6 h-6.8M2235.7 2019.4 h-6.8M2235.7 1888.2 h-6.8" stroke="#000" stroke-width="6.0" fill="none"/>
<text x="2213.5" y="2490.1" font-size="38.5" text-anchor="end" fill="#000">0.0</text>
<text x="2213.5" y="2358.9" font-size="38.5" text-anchor="end" fill="#000">0.5</text>
<text x="2213.5" y="2227.8" font-size="38.5" text-anchor="end" fill="#000">1.0</text>
<text x="2213.5" y="2096.6" font-size="38.5" text-anchor="end" fill="#000">1.5</text>
<text x="2213.5" y="1965.4" font-size="38.5" text-anchor="end" fill="#000">2.0</text>
<text x="2655.3" y="2624.3" font-size="41.0" text-anchor="middle" fill="#000">Time (min/g)</text>
<text x="2113" y="2190" font-size="41.0" text-anchor="start" fill="#000" transform="rotate(-90 2113 2190)">F/F<tspan font-size="28.5" dy="12">0</tspan><tspan dy="-12">&#8203;</tspan></text>
<text x="2091.6" y="1824.6" font-size="73" text-anchor="start" fill="#000">(h)</text>
<path d="M370.2 95.5H440.3" stroke="#C8535D" stroke-width="8.7" stroke-linecap="round" fill="none"/>
<text x="450.2" y="104.9" font-size="35.5" text-anchor="start" fill="#000">C<tspan font-size="23" dy="9.8">2</tspan><tspan dy="-9.8">&#8203;</tspan>H<tspan font-size="23" dy="9.8">2</tspan><tspan dy="-9.8">&#8203;</tspan>/CO<tspan font-size="23" dy="9.8">2</tspan><tspan dy="-9.8">&#8203;</tspan>/Ar = 10/5/85 8 mL/min</text>
<path d="M370.2 148H440.3" stroke="#CFB678" stroke-width="8.7" stroke-linecap="round" fill="none"/>
<text x="450.2" y="157.3" font-size="35.5" text-anchor="start" fill="#000">C<tspan font-size="23" dy="9.8">2</tspan><tspan dy="-9.8">&#8203;</tspan>H<tspan font-size="23" dy="9.8">2</tspan><tspan dy="-9.8">&#8203;</tspan>/CO<tspan font-size="23" dy="9.8">2</tspan><tspan dy="-9.8">&#8203;</tspan> = 50/50 2 mL/min</text>
<path d="M370.2 200.5H440.3" stroke="#5BB6D0" stroke-width="8.7" stroke-linecap="round" fill="none"/>
<text x="450.2" y="210.4" font-size="35.5" text-anchor="start" fill="#000">C<tspan font-size="23" dy="9.8">2</tspan><tspan dy="-9.8">&#8203;</tspan>H<tspan font-size="23" dy="9.8">2</tspan><tspan dy="-9.8">&#8203;</tspan>/CO<tspan font-size="23" dy="9.8">2</tspan><tspan dy="-9.8">&#8203;</tspan>/Ar = 10/10/80 4 mL/min</text>
<path d="M370.2 252.5H440.3" stroke="#426A96" stroke-width="8.7" stroke-linecap="round" fill="none"/>
<text x="450.2" y="262.9" font-size="35.5" text-anchor="start" fill="#000">C<tspan font-size="23" dy="9.8">2</tspan><tspan dy="-9.8">&#8203;</tspan>H<tspan font-size="23" dy="9.8">2</tspan><tspan dy="-9.8">&#8203;</tspan>/CO<tspan font-size="23" dy="9.8">2</tspan><tspan dy="-9.8">&#8203;</tspan>/Ar = 5/5/90 4 mL/min</text>
<path d="M2724 544.8H2802.5" stroke="#C8535D" stroke-width="8.7" stroke-linecap="round" fill="none"/>
<text x="2814" y="557" font-size="38.5" text-anchor="start" fill="#000">C<tspan font-size="23.0" dy="10">2</tspan><tspan dy="-10">&#8203;</tspan>H<tspan font-size="23.0" dy="10">2</tspan><tspan dy="-10">&#8203;</tspan></text>
<path d="M2724 602.8H2802.5" stroke="#426A96" stroke-width="8.7" stroke-linecap="round" fill="none"/>
<text x="2814" y="614.9" font-size="38.5" text-anchor="start" fill="#000">CO<tspan font-size="23.0" dy="10">2</tspan><tspan dy="-10">&#8203;</tspan></text>
<text transform="translate(2588 253.2) scale(1.092 1)" font-size="36.2" text-anchor="start" fill="#2A9D8F">A: sample activation</text>
<text transform="translate(2588 301.6) scale(1.092 1)" font-size="36.2" text-anchor="start" fill="#2A9D8F">B: signal stabilization</text>
<text transform="translate(2588 350) scale(1.092 1)" font-size="36.2" text-anchor="start" fill="#2A9D8F">C: breakthrough at 298 K</text>
<text transform="translate(2588 398.4) scale(1.092 1)" font-size="36.2" text-anchor="start" fill="#2A9D8F">D: desorption at 333 K</text>
<text transform="translate(2588 446.8) scale(1.092 1)" font-size="36.2" text-anchor="start" fill="#2A9D8F">E: desorption at 383 K</text>
<path d="M187.7 989.9H264.3" stroke="#426A96" stroke-width="8.7" stroke-linecap="round" fill="none"/>
<text x="277.5" y="1000.8" font-size="38.5" text-anchor="start" fill="#000">NaY-5.8</text>
<path d="M187.7 1038.6H264.3" stroke="#CFB678" stroke-width="8.7" stroke-linecap="round" fill="none"/>
<text x="277.5" y="1050" font-size="38.5" text-anchor="start" fill="#000">NH<tspan font-size="23.0" dy="10">4</tspan><tspan dy="-10">&#8203;</tspan>Y-5.8</text>
<path d="M187.7 1094.8H264.3" stroke="#C8535D" stroke-width="8.7" stroke-linecap="round" fill="none"/>
<text x="277.5" y="1106.8" font-size="38.5" text-anchor="start" fill="#000">TMeA-Y-5.8</text>
<path d="M1308.6 128V162.7" stroke="#2A9D8F" stroke-width="5" fill="none"/>
<path d="M1473.6 128V162.7" stroke="#2A9D8F" stroke-width="5" fill="none"/>
<path d="M1825.3 128V162.7" stroke="#2A9D8F" stroke-width="5" fill="none"/>
<path d="M2155.6 129.5V163.7" stroke="#2A9D8F" stroke-width="5" fill="none"/>
<path d="M2639.3 129.5V163.7" stroke="#2A9D8F" stroke-width="5" fill="none"/>
<path d="M3032.9 129.5V163.7" stroke="#2A9D8F" stroke-width="5" fill="none"/>
<path d="M1325.5 144.2H1361.5" stroke="#2A9D8F" stroke-width="4" fill="none"/>
<path d="M1311.1 144.2L1329.1 138.6L1329.1 149.8Z" fill="#2A9D8F"/>
<path d="M1456.7 144.2H1420.8" stroke="#2A9D8F" stroke-width="4" fill="none"/>
<path d="M1471.1 144.2L1453.1 138.6L1453.1 149.8Z" fill="#2A9D8F"/>
<text x="1389.8" y="156.1" font-size="37.5" text-anchor="middle" fill="#2A9D8F">A</text>
<path d="M1490.5 144.2H1588.4" stroke="#2A9D8F" stroke-width="4" fill="none"/>
<path d="M1476.1 144.2L1494.1 138.6L1494.1 149.8Z" fill="#2A9D8F"/>
<path d="M1808.4 144.2H1687.1" stroke="#2A9D8F" stroke-width="4" fill="none"/>
<path d="M1822.8 144.2L1804.8 138.6L1804.8 149.8Z" fill="#2A9D8F"/>
<text x="1625" y="156.1" font-size="37.5" text-anchor="middle" fill="#2A9D8F">B</text>
<path d="M1842.2 144H1940.7" stroke="#2A9D8F" stroke-width="4" fill="none"/>
<path d="M1827.8 144L1845.8 138.4L1845.8 149.6Z" fill="#2A9D8F"/>
<path d="M2138.7 144.6H2016.2" stroke="#2A9D8F" stroke-width="4" fill="none"/>
<path d="M2153.1 144.6L2135.1 139L2135.1 150.2Z" fill="#2A9D8F"/>
<text x="1972.3" y="157.8" font-size="37.5" text-anchor="middle" fill="#2A9D8F">C</text>
<path d="M2172.5 143.3H2270.8" stroke="#2A9D8F" stroke-width="4" fill="none"/>
<path d="M2158.1 143.3L2176.1 137.7L2176.1 148.9Z" fill="#2A9D8F"/>
<path d="M2622.4 145.1H2501.1" stroke="#2A9D8F" stroke-width="4" fill="none"/>
<path d="M2636.8 145.1L2618.8 139.5L2618.8 150.7Z" fill="#2A9D8F"/>
<text x="2382.2" y="158.3" font-size="37.5" text-anchor="middle" fill="#2A9D8F">D</text>
<path d="M2656.2 145H2755.2" stroke="#2A9D8F" stroke-width="4" fill="none"/>
<path d="M2641.8 145L2659.8 139.4L2659.8 150.6Z" fill="#2A9D8F"/>
<path d="M3016 146.4H2894.7" stroke="#2A9D8F" stroke-width="4" fill="none"/>
<path d="M3030.4 146.4L3012.4 140.8L3012.4 152Z" fill="#2A9D8F"/>
<text x="2818.1" y="159.6" font-size="37.5" text-anchor="middle" fill="#2A9D8F">E</text>
<path d="M1752.5 979.4H1826.4" stroke="#427CC0" stroke-width="8.7" stroke-linecap="round" fill="none"/>
<text x="1839" y="991.2" font-size="38.5" text-anchor="start" fill="#000">4 mL/min</text>
<path d="M1752.5 1027.8H1826.4" stroke="#5BB6D0" stroke-width="8.7" stroke-linecap="round" fill="none"/>
<text x="1839" y="1039.6" font-size="38.5" text-anchor="start" fill="#000">6 mL/min</text>
<path d="M1752.5 1076H1826.4" stroke="#CFB678" stroke-width="8.7" stroke-linecap="round" fill="none"/>
<text x="1839" y="1087.8" font-size="38.5" text-anchor="start" fill="#000">8 mL/min</text>
<path d="M1752.5 1124.3H1826.4" stroke="#C8535D" stroke-width="8.7" stroke-linecap="round" fill="none"/>
<text x="1839" y="1136.1" font-size="38.5" text-anchor="start" fill="#000">12 mL/min</text>
<path d="M2876.4 971.8H2952.1" stroke="#426A96" stroke-width="8.7" stroke-linecap="round" fill="none"/>
<text x="2963.8" y="983.1" font-size="38.5" text-anchor="start" fill="#000">298 K</text>
<path d="M2876.4 1020.3H2952.1" stroke="#CFB678" stroke-width="8.7" stroke-linecap="round" fill="none"/>
<text x="2963.8" y="1031.6" font-size="38.5" text-anchor="start" fill="#000">313 K</text>
<path d="M2876.4 1068.6H2952.1" stroke="#C8535D" stroke-width="8.7" stroke-linecap="round" fill="none"/>
<text x="2963.8" y="1079.9" font-size="38.5" text-anchor="start" fill="#000">333 K</text>
<path d="M680.1 1855.9H754.8" stroke="#C8535D" stroke-width="8.7" stroke-linecap="round" fill="none"/>
<text x="767.5" y="1868.6" font-size="38.5" text-anchor="start" fill="#000">RH 40%</text>
<path d="M680.1 1903.6H754.8" stroke="#426A96" stroke-width="8.7" stroke-linecap="round" fill="none"/>
<text x="767.5" y="1916.6" font-size="38.5" text-anchor="start" fill="#000">Without H<tspan font-size="23.0" dy="10">2</tspan><tspan dy="-10">&#8203;</tspan>O</text>
<text x="1248.8" y="1878.1" font-size="38.5" text-anchor="middle" fill="#000">1th</text>
<text x="1331" y="1878.1" font-size="38.5" text-anchor="middle" fill="#000">3th</text>
<text x="1410" y="1878.1" font-size="38.5" text-anchor="middle" fill="#000">5th</text>
<text x="1483.9" y="1878.1" font-size="38.5" text-anchor="middle" fill="#000">7th</text>
<text x="1559.9" y="1878.1" font-size="38.5" text-anchor="middle" fill="#000">9th</text>
<text x="1644.3" y="1878.1" font-size="38.5" text-anchor="middle" fill="#000">11th</text>
<text x="1725.4" y="1878.1" font-size="38.5" text-anchor="middle" fill="#000">13th</text>
<text x="1809" y="1878.1" font-size="38.5" text-anchor="middle" fill="#000">15th</text>
<text x="1891.5" y="1878.1" font-size="38.5" text-anchor="middle" fill="#000">17th</text>
<text x="1973.1" y="1878.1" font-size="38.5" text-anchor="middle" fill="#000">19th</text>
<path d="M2894.2 1858.8H2967.6" stroke="#C8535D" stroke-width="8.7" stroke-linecap="round" fill="none"/>
<text x="2977" y="1871.2" font-size="38.5" text-anchor="start" fill="#000">C<tspan font-size="23.0" dy="10">2</tspan><tspan dy="-10">&#8203;</tspan>H<tspan font-size="23.0" dy="10">2</tspan><tspan dy="-10">&#8203;</tspan></text>
<path d="M2894.2 1916H2967.6" stroke="#CFB678" stroke-width="8.7" stroke-linecap="round" fill="none"/>
<text x="2982" y="1928.5" font-size="38.5" text-anchor="start" fill="#000">CO<tspan font-size="23.0" dy="10">2</tspan><tspan dy="-10">&#8203;</tspan></text>
<path d="M2894.2 1973H2967.6" stroke="#426A96" stroke-width="8.7" stroke-linecap="round" fill="none"/>
<text x="2982" y="1985.6" font-size="38.5" text-anchor="start" fill="#000">C<tspan font-size="23.0" dy="10">2</tspan><tspan dy="-10">&#8203;</tspan>H<tspan font-size="23.0" dy="10">4</tspan><tspan dy="-10">&#8203;</tspan></text></svg></body></html>
